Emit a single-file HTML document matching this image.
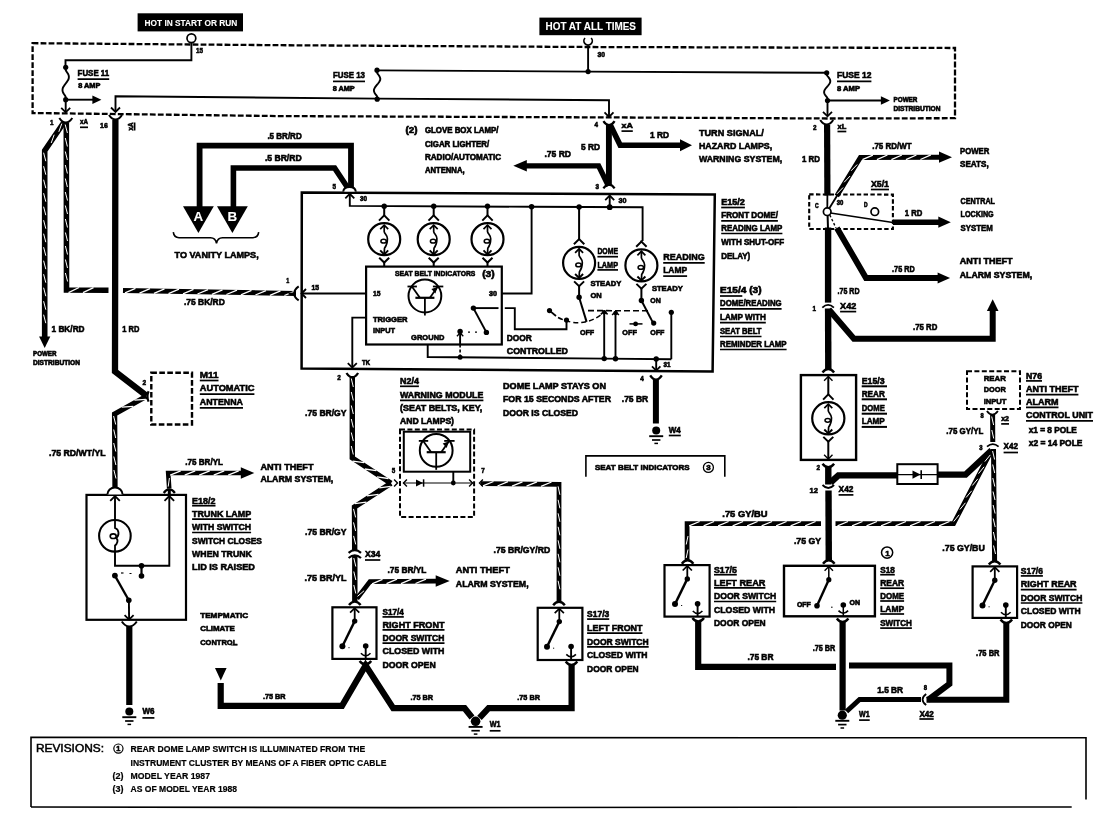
<!DOCTYPE html>
<html><head><meta charset="utf-8"><title>Wiring diagram</title>
<style>
html,body{margin:0;padding:0;background:#fff;}
body{width:1115px;height:830px;overflow:hidden;}
svg{display:block;font-family:"Liberation Sans",sans-serif;filter:blur(0.5px);}
svg *{vector-effect:none;}
</style></head><body>
<svg width="1115" height="830" viewBox="0 0 1115 830" fill="none" stroke="#000" stroke-linecap="butt">
<rect x="0" y="0" width="1115" height="830" fill="#fff" stroke="none"/>
<g stroke="#000" fill="none">
<rect x="137.6" y="13.3" width="105.4" height="18.1" stroke-width="0" fill="#000"/>
<text x="144.5" y="26.1" font-size="9.6" fill="#fff" stroke="#fff" stroke-width="0.1" text-anchor="start" font-weight="bold" textLength="92.8" lengthAdjust="spacingAndGlyphs">HOT IN START OR RUN</text>
<rect x="539.4" y="17.6" width="102.2" height="17.6" stroke-width="0" fill="#000"/>
<text x="545.5" y="29.7" font-size="10.5" fill="#fff" stroke="#fff" stroke-width="0.1" text-anchor="start" font-weight="bold" textLength="90.5" lengthAdjust="spacingAndGlyphs">HOT AT ALL TIMES</text>
<polygon points="32.6,43.2 280,45.2 588,47 955,48 955,118.2 827,118.5 609,117.4 280,116.1 32.6,113" stroke-width="2.3" stroke-dasharray="5.8 2.2"/>
<polyline points="191.4,42.5 191.4,60.3 65.5,60.3 65.5,67.3" stroke-width="1.9" />
<circle cx="191.4" cy="38.2" r="4.4" stroke-width="1.7" fill="#fff"/>
<text x="196" y="53.1" font-size="7.7" fill="#000" stroke="#000" stroke-width="0.6" text-anchor="start" font-weight="bold" textLength="7" lengthAdjust="spacingAndGlyphs">15</text>
<circle cx="65.7" cy="67.3" r="2.6" fill="#000" stroke="none"/>
<circle cx="65.7" cy="99.7" r="2.6" fill="#000" stroke="none"/>
<polyline points="65.7,67.3 65.7,68.6 65.7,70 66.3,71.3 67.3,72.7 68.1,74 68.7,75.4 68.9,76.8 68.8,78.1 68.4,79.5 67.6,80.8 66.7,82.2 65.7,83.5 64.7,84.8 63.8,86.2 63,87.5 62.6,88.9 62.5,90.2 62.7,91.6 63.3,93 64.1,94.3 65.1,95.7 65.7,97 65.7,98.4 65.7,99.7" stroke-width="1.9" />
<polyline points="65.7,99.7 93,99.7" stroke-width="1.9" />
<polygon points="101.4,99.7 92.4,95.4 92.4,104" fill="#000" stroke="none"/>
<polyline points="65.7,99.7 65.7,112" stroke-width="1.9" />
<polyline points="61.2,107.8 65.7,112.3 70.2,107.8" stroke-width="1.8" />
<text x="77.6" y="75.9" font-size="9.4" fill="#000" stroke="#000" stroke-width="0.6" text-anchor="start" font-weight="bold" textLength="31.6" lengthAdjust="spacingAndGlyphs">FUSE 11</text>
<line x1="77.6" y1="79.1" x2="109.2" y2="79.1" stroke-width="1.7"/>
<text x="78.2" y="87.5" font-size="6.8" fill="#000" stroke="#000" stroke-width="0.6" text-anchor="start" font-weight="bold" textLength="22.2" lengthAdjust="spacingAndGlyphs">8 AMP</text>
<polyline points="115.5,111.9 115.5,96.2 377.4,98.6 609,100.2 609,116.5" stroke-width="1.9" />
<polyline points="111,107.5 115.5,112 120,107.5" stroke-width="1.8" />
<polyline points="604.5,112.4 609,116.9 613.5,112.4" stroke-width="1.8" />
<circle cx="377" cy="70.2" r="2.6" fill="#000" stroke="none"/>
<circle cx="377.2" cy="99.2" r="2.6" fill="#000" stroke="none"/>
<polyline points="377,70.2 377,71.4 377,72.6 377.6,73.8 378.6,75 379.4,76.2 380,77.5 380.3,78.7 380.2,79.9 379.7,81.1 379,82.3 378.1,83.5 377.1,84.7 376.1,85.9 375.2,87.1 374.5,88.3 374,89.5 373.9,90.7 374.2,92 374.8,93.2 375.6,94.4 376.6,95.6 377.2,96.8 377.2,98 377.2,99.2" stroke-width="1.9" />
<polyline points="377.4,70.4 588.1,71.6 826.7,72.8" stroke-width="1.9" />
<text x="333" y="77.8" font-size="9.4" fill="#000" stroke="#000" stroke-width="0.6" text-anchor="start" font-weight="bold" textLength="32" lengthAdjust="spacingAndGlyphs">FUSE 13</text>
<line x1="333" y1="81.4" x2="365" y2="81.4" stroke-width="1.7"/>
<text x="332.7" y="91" font-size="6.8" fill="#000" stroke="#000" stroke-width="0.6" text-anchor="start" font-weight="bold" textLength="22" lengthAdjust="spacingAndGlyphs">8 AMP</text>
<path d="M585.0,38.0 A4.2,4.2 0 1 0 591.2,38.0" stroke-width="1.7" fill="none" />
<polyline points="588.1,45.6 588.1,71.6" stroke-width="1.9" />
<circle cx="588.1" cy="71.6" r="2.6" fill="#000" stroke="none"/>
<text x="597.5" y="56.8" font-size="7.7" fill="#000" stroke="#000" stroke-width="0.6" text-anchor="start" font-weight="bold" textLength="7.5" lengthAdjust="spacingAndGlyphs">30</text>
<circle cx="826.7" cy="72.8" r="2.6" fill="#000" stroke="none"/>
<circle cx="827.5" cy="100.5" r="2.6" fill="#000" stroke="none"/>
<polyline points="826.9,72.8 826.9,74 826.9,75.1 827.6,76.3 828.6,77.4 829.4,78.6 830,79.7 830.3,80.9 830.2,82 829.8,83.2 829.1,84.3 828.2,85.5 827.2,86.7 826.2,87.8 825.3,89 824.6,90.1 824.2,91.3 824.1,92.4 824.4,93.6 825,94.7 825.8,95.9 826.8,97 827.5,98.2 827.5,99.3 827.5,100.5" stroke-width="1.9" />
<polyline points="827.5,100.5 827.5,116" stroke-width="1.9" />
<polyline points="823,111.8 827.5,116.3 832,111.8" stroke-width="1.8" />
<polyline points="827.5,100.5 881.5,100.5" stroke-width="1.9" />
<polygon points="889.9,100.5 880.9,96.2 880.9,104.8" fill="#000" stroke="none"/>
<text x="837" y="78" font-size="9.2" fill="#000" stroke="#000" stroke-width="0.6" text-anchor="start" font-weight="bold" textLength="34.4" lengthAdjust="spacingAndGlyphs">FUSE 12</text>
<line x1="837" y1="81.4" x2="871.4" y2="81.4" stroke-width="1.7"/>
<text x="837" y="90.5" font-size="7.1" fill="#000" stroke="#000" stroke-width="0.6" text-anchor="start" font-weight="bold" textLength="23" lengthAdjust="spacingAndGlyphs">8 AMP</text>
<text x="893.5" y="102.2" font-size="6.8" fill="#000" stroke="#000" stroke-width="0.6" text-anchor="start" font-weight="bold" textLength="23.9" lengthAdjust="spacingAndGlyphs">POWER</text>
<text x="893.5" y="111" font-size="6.8" fill="#000" stroke="#000" stroke-width="0.6" text-anchor="start" font-weight="bold" textLength="47" lengthAdjust="spacingAndGlyphs">DISTRIBUTION</text>
<path d="M59.3,118 Q62.2,122.5 65.8,122.5 Q69.4,122.5 72.3,118" stroke-width="2" fill="none" />
<text x="50" y="124.8" font-size="7.7" fill="#000" stroke="#000" stroke-width="0.6" text-anchor="start" font-weight="bold" textLength="3.5" lengthAdjust="spacingAndGlyphs">1</text>
<text x="80" y="124.3" font-size="7.7" fill="#000" stroke="#000" stroke-width="0.6" text-anchor="start" font-weight="bold" textLength="8" lengthAdjust="spacingAndGlyphs">xA</text>
<line x1="80" y1="127.3" x2="88" y2="127.3" stroke-width="1.7"/>
<path d="M109,115 Q111.9,119.5 115.5,119.5 Q119.1,119.5 122,115" stroke-width="2" fill="none" />
<text x="100" y="127.6" font-size="7.7" fill="#000" stroke="#000" stroke-width="0.6" text-anchor="start" font-weight="bold" textLength="7.8" lengthAdjust="spacingAndGlyphs">16</text>
<g transform="translate(130.6,125) rotate(-90)">
<text x="-5.5" y="2.8" font-size="7.7" fill="#000" stroke="#000" stroke-width="0.6" text-anchor="start" font-weight="bold" textLength="8" lengthAdjust="spacingAndGlyphs">xA</text>
<line x1="-5.5" y1="4" x2="2.5" y2="4" stroke-width="1.7"/>
</g>
<path d="M603.4,121.2 Q605.9,125 609,125 Q612.1,125 614.6,121.2" stroke-width="2.2" fill="none" />
<text x="594.5" y="127.1" font-size="7.7" fill="#000" stroke="#000" stroke-width="0.6" text-anchor="start" font-weight="bold" textLength="3.5" lengthAdjust="spacingAndGlyphs">4</text>
<text x="621.5" y="128" font-size="7.7" fill="#000" stroke="#000" stroke-width="0.6" text-anchor="start" font-weight="bold" textLength="11.3" lengthAdjust="spacingAndGlyphs">xA</text>
<line x1="621.5" y1="131.1" x2="632.8" y2="131.1" stroke-width="1.7"/>
<path d="M820.2,120 Q823.1,124.5 826.7,124.5 Q830.3,124.5 833.2,120" stroke-width="2" fill="none" />
<text x="813" y="130.1" font-size="7.7" fill="#000" stroke="#000" stroke-width="0.6" text-anchor="start" font-weight="bold" textLength="3.5" lengthAdjust="spacingAndGlyphs">2</text>
<text x="837.5" y="129.2" font-size="7.7" fill="#000" stroke="#000" stroke-width="0.6" text-anchor="start" font-weight="bold" textLength="8.8" lengthAdjust="spacingAndGlyphs">xL</text>
<line x1="837.5" y1="131.5" x2="846.3" y2="131.5" stroke-width="1.7"/>
<polyline points="63.8,122.5 44.7,150.7 44.7,337.5" stroke-width="5.6" stroke-linejoin="miter"/>
<path d="M61.8,123.6L58.8,131.8M54.2,134.7L51.2,143M43.6,152.7L45.8,161.2M43.6,166.2L45.8,174.7M43.6,179.7L45.8,188.2M43.6,193.2L45.8,201.7M43.6,206.7L45.8,215.2M43.6,220.2L45.8,228.7M43.6,233.7L45.8,242.2M43.6,247.2L45.8,255.7M43.6,260.7L45.8,269.2M43.6,274.2L45.8,282.7M43.6,287.7L45.8,296.2M43.6,301.2L45.8,309.7M43.6,314.7L45.8,323.2" stroke="#fff" stroke-width="1" stroke-linecap="butt"/>
<polygon points="44.7,347.9 39.1,336.4 50.3,336.4" fill="#000" stroke="none"/>
<polyline points="66.3,122.5 66.5,290 108.5,290.3" stroke-width="5.6" stroke-linejoin="miter"/>
<path d="M68.5,292.6L79,287.5M83,292.7L93.5,287.6" stroke="#fff" stroke-width="1.3" stroke-linecap="butt"/>
<path d="M65.2,124.5L67.4,133M65.3,138L67.4,146.5M65.3,151.5L67.4,160M65.3,165L67.4,173.5M65.3,178.5L67.4,187M65.3,192L67.5,200.5M65.3,205.5L67.5,214M65.4,219L67.5,227.5M65.4,232.5L67.5,241M65.4,246L67.5,254.5M65.4,259.5L67.5,268M65.4,273L67.6,281.5" stroke="#fff" stroke-width="1" stroke-linecap="butt"/>
<polyline points="123,290.5 296,293.4" stroke-width="5" stroke-linejoin="miter"/>
<path d="M125,292.8L135.5,288.4M139.5,293.1L150,288.7M154,293.3L164.5,288.9M168.5,293.6L179,289.1M183,293.8L193.5,289.4M197.5,294L208,289.6M211.9,294.3L222.5,289.9M226.4,294.5L237,290.1M240.9,294.8L251.5,290.4M255.4,295L266,290.6M269.9,295.3L280.5,290.8M284.4,295.5L295,291.1" stroke="#fff" stroke-width="1.3" stroke-linecap="butt"/>
<polyline points="115.4,120 115,371.5 146.5,395.8" stroke-width="6.3" stroke-linejoin="miter"/>
<polyline points="146.5,396.2 114.6,414 115,489" stroke-width="5.3" stroke-linejoin="miter"/>
<path d="M145.9,399.3L134.4,400.2M133.3,406.4L121.7,407.2" stroke="#fff" stroke-width="1.3" stroke-linecap="butt"/>
<path d="M113.6,416L115.7,424.5M113.7,429.5L115.7,438M113.7,443L115.8,451.5M113.8,456.5L115.9,465M113.9,470L116,478.5" stroke="#fff" stroke-width="1" stroke-linecap="butt"/>
<polygon points="151.3,372.8 192,372.8 192,424.5 151.3,424.5" stroke-width="2.4" stroke-dasharray="5.6 2.4"/>
<path d="M148.6,391.2 Q146.2,396.4 148.6,401.6" stroke-width="2.2" fill="none" />
<text x="142.4" y="385.4" font-size="7.7" fill="#000" stroke="#000" stroke-width="0.6" text-anchor="start" font-weight="bold" textLength="3.6" lengthAdjust="spacingAndGlyphs">2</text>
<text x="199.8" y="377.7" font-size="9.6" fill="#000" stroke="#000" stroke-width="0.6" text-anchor="start" font-weight="bold" textLength="18.7" lengthAdjust="spacingAndGlyphs">M11</text>
<line x1="199.8" y1="380.5" x2="218.5" y2="380.5" stroke-width="1.7"/>
<text x="199.8" y="391.3" font-size="9.6" fill="#000" stroke="#000" stroke-width="0.6" text-anchor="start" font-weight="bold" textLength="54.6" lengthAdjust="spacingAndGlyphs">AUTOMATIC</text>
<line x1="199.8" y1="394.1" x2="254.4" y2="394.1" stroke-width="1.7"/>
<text x="199.8" y="404.8" font-size="9.6" fill="#000" stroke="#000" stroke-width="0.6" text-anchor="start" font-weight="bold" textLength="43.2" lengthAdjust="spacingAndGlyphs">ANTENNA</text>
<line x1="199.8" y1="407.8" x2="243" y2="407.8" stroke-width="1.7"/>
<text x="51.5" y="332" font-size="9.2" fill="#000" stroke="#000" stroke-width="0.6" text-anchor="start" font-weight="bold" textLength="33.1" lengthAdjust="spacingAndGlyphs">1 BK/RD</text>
<text x="122.3" y="332" font-size="9.2" fill="#000" stroke="#000" stroke-width="0.6" text-anchor="start" font-weight="bold" textLength="17.1" lengthAdjust="spacingAndGlyphs">1 RD</text>
<text x="33" y="356.2" font-size="6.8" fill="#000" stroke="#000" stroke-width="0.6" text-anchor="start" font-weight="bold" textLength="23.5" lengthAdjust="spacingAndGlyphs">POWER</text>
<text x="33" y="365" font-size="6.8" fill="#000" stroke="#000" stroke-width="0.6" text-anchor="start" font-weight="bold" textLength="47" lengthAdjust="spacingAndGlyphs">DISTRIBUTION</text>
<text x="184" y="305.1" font-size="9.2" fill="#000" stroke="#000" stroke-width="0.6" text-anchor="start" font-weight="bold" textLength="40.8" lengthAdjust="spacingAndGlyphs">.75 BK/RD</text>
<text x="49" y="455.6" font-size="9.2" fill="#000" stroke="#000" stroke-width="0.6" text-anchor="start" font-weight="bold" textLength="56.5" lengthAdjust="spacingAndGlyphs">.75 RD/WT/YL</text>
<polyline points="351,189 351,145.6 199.6,145.6 199.6,207" stroke-width="5.8" stroke-linejoin="miter"/>
<polyline points="348.2,188.5 334.6,168 233.4,168 233.4,207" stroke-width="5.6" stroke-linejoin="miter"/>
<polygon points="183,206.3 213.8,206.3 198.4,233" fill="#000" stroke="none"/>
<polygon points="217,206.3 247.8,206.3 232.4,233" fill="#000" stroke="none"/>
<text x="198.4" y="221.3" font-size="13.4" fill="#fff" stroke="#fff" stroke-width="0.1" text-anchor="middle" font-weight="bold">A</text>
<text x="232.4" y="221.3" font-size="13.4" fill="#fff" stroke="#fff" stroke-width="0.1" text-anchor="middle" font-weight="bold">B</text>
<path d="M173.3,232.2 Q174,237.7 179,237.7 L210.5,237.7 Q215.5,237.7 216.5,243.4 Q217.5,237.7 222.5,237.7 L253,237.7 Q258,237.7 258.7,232.2" stroke-width="1.6" fill="none" />
<text x="174.5" y="258.3" font-size="9.8" fill="#000" stroke="#000" stroke-width="0.6" text-anchor="start" font-weight="bold" textLength="84.2" lengthAdjust="spacingAndGlyphs">TO VANITY LAMPS,</text>
<text x="267.4" y="138.9" font-size="9.2" fill="#000" stroke="#000" stroke-width="0.6" text-anchor="start" font-weight="bold" textLength="34.3" lengthAdjust="spacingAndGlyphs">.5 BR/RD</text>
<text x="264.9" y="161.3" font-size="9.2" fill="#000" stroke="#000" stroke-width="0.6" text-anchor="start" font-weight="bold" textLength="36.8" lengthAdjust="spacingAndGlyphs">.5 BR/RD</text>
<rect x="86.5" y="494.9" width="99.5" height="124.9" stroke-width="2.2" fill="none"/>
<path d="M107.4,494.6 A7.6,7.2 0 0 1 122.6,494.6" stroke-width="2" fill="#fff" />
<path d="M163.7,493 Q166.2,489.4 169.3,489.4 Q172.4,489.4 174.9,493" stroke-width="2.2" fill="none" />
<polyline points="169.3,490 169.3,495" stroke-width="3" />
<polyline points="110.2,500.8 115,496 119.8,500.8" stroke-width="1.8" />
<polyline points="164.5,500.8 169.3,496 174.1,500.8" stroke-width="1.8" />
<polyline points="115,496 115,521" stroke-width="1.9" />
<circle cx="114.9" cy="535.8" r="15.8" stroke-width="2.1" fill="none"/>
<path d="M115,520 L115,528 C119.5,529.5 119.5,536 116,538 C119,540 117,544 115,545.5 L115,552" stroke-width="1.8" fill="none" />
<ellipse cx="113.2" cy="536.2" rx="3.0" ry="2.3" stroke-width="1.6" fill="none"/>
<polyline points="115,551 115,565.7 169.3,565.7 169.3,496" stroke-width="1.9" />
<circle cx="141.5" cy="565.7" r="2.8" fill="#000" stroke="none"/>
<polyline points="141.5,565.7 141.5,576" stroke-width="2.2" />
<circle cx="141.5" cy="576" r="2.8" fill="#000" stroke="none"/>
<circle cx="114.9" cy="575.6" r="2.9" fill="#000" stroke="none"/>
<polyline points="121,573 123.5,573" stroke-width="1.2" />
<polyline points="129.5,573.5 131.5,573.5" stroke-width="1" />
<polyline points="114.9,575.6 128.8,600.2" stroke-width="2.3" />
<circle cx="128.8" cy="600.2" r="2.8" fill="#000" stroke="none"/>
<polyline points="128.9,600.2 129.1,619" stroke-width="1.9" />
<polyline points="124.6,615.1 129.1,619.6 133.6,615.1" stroke-width="1.8" />
<path d="M121.8,621.5 Q125.2,626.5 129.3,626.5 Q133.4,626.5 136.8,621.5" stroke-width="2" fill="none" />
<polyline points="129.3,626 129.3,705" stroke-width="6.2" stroke-linejoin="miter"/>
<circle cx="129.3" cy="711.6" r="4" fill="#000" stroke="none"/>
<polyline points="122.3,717.2 136.3,717.2" stroke-width="1.9" />
<polyline points="125.1,721 133.5,721" stroke-width="1.7" />
<polyline points="127.5,724.4 131.1,724.4" stroke-width="1.5" />
<text x="142.4" y="714.4" font-size="8.6" fill="#000" stroke="#000" stroke-width="0.6" text-anchor="start" font-weight="bold" textLength="12" lengthAdjust="spacingAndGlyphs">W6</text>
<line x1="142.4" y1="717.9" x2="154.4" y2="717.9" stroke-width="1.7"/>
<polyline points="169.2,488.5 168.2,473 241,473" stroke-width="4.6" stroke-linejoin="miter"/>
<path d="M170.2,475.1L180.7,470.9M184.7,475.1L195.2,470.9M199.2,475.1L209.7,470.9M213.7,475.1L224.2,470.9M228.2,475.1L238.7,470.9" stroke="#fff" stroke-width="1.3" stroke-linecap="butt"/>
<path d="M168.2,486.6L169.4,478" stroke="#fff" stroke-width="1" stroke-linecap="butt"/>
<polygon points="254.3,473 240.8,467.2 240.8,478.8" fill="#000" stroke="none"/>
<text x="185.3" y="464.9" font-size="9.2" fill="#000" stroke="#000" stroke-width="0.6" text-anchor="start" font-weight="bold" textLength="37.7" lengthAdjust="spacingAndGlyphs">.75 BR/YL</text>
<text x="260.4" y="470" font-size="9.6" fill="#000" stroke="#000" stroke-width="0.6" text-anchor="start" font-weight="bold" textLength="53.1" lengthAdjust="spacingAndGlyphs">ANTI THEFT</text>
<text x="260.4" y="482.2" font-size="9.6" fill="#000" stroke="#000" stroke-width="0.6" text-anchor="start" font-weight="bold" textLength="72.8" lengthAdjust="spacingAndGlyphs">ALARM SYSTEM,</text>
<text x="192.1" y="503.5" font-size="9.6" fill="#000" stroke="#000" stroke-width="0.6" text-anchor="start" font-weight="bold" textLength="23.4" lengthAdjust="spacingAndGlyphs">E18/2</text>
<line x1="192.1" y1="505.7" x2="215.5" y2="505.7" stroke-width="1.7"/>
<text x="192.1" y="517" font-size="9.6" fill="#000" stroke="#000" stroke-width="0.6" text-anchor="start" font-weight="bold" textLength="59" lengthAdjust="spacingAndGlyphs">TRUNK LAMP</text>
<line x1="192.1" y1="519.1" x2="251.1" y2="519.1" stroke-width="1.7"/>
<text x="192.1" y="530.3" font-size="9.6" fill="#000" stroke="#000" stroke-width="0.6" text-anchor="start" font-weight="bold" textLength="59" lengthAdjust="spacingAndGlyphs">WITH SWITCH</text>
<line x1="192.1" y1="532.5" x2="251.1" y2="532.5" stroke-width="1.7"/>
<text x="192.1" y="543.6" font-size="9.6" fill="#000" stroke="#000" stroke-width="0.6" text-anchor="start" font-weight="bold" textLength="69.8" lengthAdjust="spacingAndGlyphs">SWITCH CLOSES</text>
<text x="192.1" y="556.7" font-size="9.6" fill="#000" stroke="#000" stroke-width="0.6" text-anchor="start" font-weight="bold" textLength="59.8" lengthAdjust="spacingAndGlyphs">WHEN TRUNK</text>
<text x="192.1" y="570" font-size="9.6" fill="#000" stroke="#000" stroke-width="0.6" text-anchor="start" font-weight="bold" textLength="62.8" lengthAdjust="spacingAndGlyphs">LID IS RAISED</text>
<text x="200.2" y="617.7" font-size="8.1" fill="#000" stroke="#000" stroke-width="0.6" text-anchor="start" font-weight="bold" textLength="47.9" lengthAdjust="spacingAndGlyphs">TEMPMATIC</text>
<text x="200.2" y="630.7" font-size="8.1" fill="#000" stroke="#000" stroke-width="0.6" text-anchor="start" font-weight="bold" textLength="34.6" lengthAdjust="spacingAndGlyphs">CLIMATE</text>
<text x="200.2" y="644.5" font-size="8.1" fill="#000" stroke="#000" stroke-width="0.6" text-anchor="start" font-weight="bold" textLength="37.1" lengthAdjust="spacingAndGlyphs">CONTROL</text>
<polyline points="231,645 237.5,645" stroke-width="1" />
<polygon points="301.8,192.6 714.8,194.4 712.6,371.6 301.6,368.4" stroke-width="2.5" fill="none"/>
<path d="M343.2,191.6 Q343.8,187.0 349.6,187.0 Q355.2,187.0 355.8,191.6" stroke-width="2" fill="#fff" />
<text x="332.5" y="189.1" font-size="7.7" fill="#000" stroke="#000" stroke-width="0.6" text-anchor="start" font-weight="bold" textLength="3.5" lengthAdjust="spacingAndGlyphs">5</text>
<polyline points="345.3,198.3 349.8,193.8 354.3,198.3" stroke-width="1.8" />
<polyline points="349.8,193.8 349.8,205.9 531.6,206.8 642.6,207.3 642.6,241" stroke-width="1.9" />
<text x="360" y="201" font-size="7.1" fill="#000" stroke="#000" stroke-width="0.6" text-anchor="start" font-weight="bold" textLength="7" lengthAdjust="spacingAndGlyphs">30</text>
<circle cx="384.2" cy="206.3" r="2.7" fill="#000" stroke="none"/>
<polyline points="384.2,206.3 384.2,215.9" stroke-width="2" />
<polyline points="379,220.6 384.2,215.4 389.4,220.6" stroke-width="2" />
<circle cx="384.2" cy="239.2" r="16" stroke-width="2.2" fill="none"/>
<polyline points="380.2,229.1 384.2,225.1 388.2,229.1" stroke-width="1.7" />
<path d="M384.2,225.1 L384.2,231.7 C384.7,234.2 387.4,235.2 387.4,238.7 C387.4,243.2 386.7,245.2 384.5,248.2 L384.2,254" stroke-width="1.7" fill="none" />
<ellipse cx="383.6" cy="241.2" rx="2.7" ry="1.9" stroke-width="1.5" fill="none"/>
<polyline points="380.2,250.3 384.2,254.3 388.2,250.3" stroke-width="1.9" />
<polyline points="379.2,257.7 384.2,262.5 389.2,257.7" stroke-width="2" />
<polyline points="384.2,262 384.2,266.6" stroke-width="2" />
<circle cx="433.7" cy="206.3" r="2.7" fill="#000" stroke="none"/>
<polyline points="433.7,206.3 433.7,215.9" stroke-width="2" />
<polyline points="428.5,220.6 433.7,215.4 438.9,220.6" stroke-width="2" />
<circle cx="433.7" cy="239.2" r="16" stroke-width="2.2" fill="none"/>
<polyline points="429.7,229.1 433.7,225.1 437.7,229.1" stroke-width="1.7" />
<path d="M433.7,225.1 L433.7,231.7 C434.2,234.2 436.9,235.2 436.9,238.7 C436.9,243.2 436.2,245.2 434,248.2 L433.7,254" stroke-width="1.7" fill="none" />
<ellipse cx="433.1" cy="241.2" rx="2.7" ry="1.9" stroke-width="1.5" fill="none"/>
<polyline points="429.7,250.3 433.7,254.3 437.7,250.3" stroke-width="1.9" />
<polyline points="428.7,257.7 433.7,262.5 438.7,257.7" stroke-width="2" />
<polyline points="433.7,262 433.7,266.6" stroke-width="2" />
<circle cx="487.5" cy="206.3" r="2.7" fill="#000" stroke="none"/>
<polyline points="487.5,206.3 487.5,215.9" stroke-width="2" />
<polyline points="482.3,220.6 487.5,215.4 492.7,220.6" stroke-width="2" />
<circle cx="487.5" cy="239.2" r="16" stroke-width="2.2" fill="none"/>
<polyline points="483.5,229.1 487.5,225.1 491.5,229.1" stroke-width="1.7" />
<path d="M487.5,225.1 L487.5,231.7 C488,234.2 490.7,235.2 490.7,238.7 C490.7,243.2 490,245.2 487.8,248.2 L487.5,254" stroke-width="1.7" fill="none" />
<ellipse cx="486.9" cy="241.2" rx="2.7" ry="1.9" stroke-width="1.5" fill="none"/>
<polyline points="483.5,250.3 487.5,254.3 491.5,250.3" stroke-width="1.9" />
<polyline points="482.5,257.7 487.5,262.5 492.5,257.7" stroke-width="2" />
<polyline points="487.5,262 487.5,266.6" stroke-width="2" />
<rect x="366.1" y="266.6" width="135.7" height="77.9" stroke-width="2.2" fill="none"/>
<text x="395" y="276.3" font-size="7.9" fill="#000" stroke="#000" stroke-width="0.6" text-anchor="start" font-weight="bold" textLength="80.4" lengthAdjust="spacingAndGlyphs">SEAT BELT INDICATORS</text>
<text x="482.2" y="277" font-size="9.2" fill="#000" stroke="#000" stroke-width="0.6" text-anchor="start" font-weight="bold" textLength="12.5" lengthAdjust="spacingAndGlyphs">(3)</text>
<path d="M298.7,286.4 Q294.2,289.5 294.2,293.4 Q294.2,297.2 298.7,300.4" stroke-width="2" fill="none" />
<polyline points="288.5,293.4 294.5,293.4" stroke-width="1.6" />
<polyline points="306,289 301.5,293.5 306,298" stroke-width="1.8" />
<polyline points="301.5,293.5 366.1,293.5" stroke-width="1.9" />
<text x="286.3" y="283.3" font-size="7.7" fill="#000" stroke="#000" stroke-width="0.6" text-anchor="start" font-weight="bold" textLength="3" lengthAdjust="spacingAndGlyphs">1</text>
<text x="311.5" y="289.8" font-size="6.8" fill="#000" stroke="#000" stroke-width="0.6" text-anchor="start" font-weight="bold" textLength="7.5" lengthAdjust="spacingAndGlyphs">15</text>
<text x="373" y="296.3" font-size="7.7" fill="#000" stroke="#000" stroke-width="0.6" text-anchor="start" font-weight="bold" textLength="7.5" lengthAdjust="spacingAndGlyphs">15</text>
<text x="489" y="295.8" font-size="7.7" fill="#000" stroke="#000" stroke-width="0.6" text-anchor="start" font-weight="bold" textLength="8" lengthAdjust="spacingAndGlyphs">30</text>
<circle cx="424.9" cy="296" r="16.4" stroke-width="2" fill="none"/>
<polyline points="407.5,286.5 416.9,286.5" stroke-width="1.8" />
<polyline points="432.9,286.5 443.3,286.5" stroke-width="1.8" />
<polyline points="411.9,286.5 419.9,297.8" stroke-width="1.8" />
<polyline points="437.9,286.5 429.9,297.8" stroke-width="1.8" />
<polygon points="437.4,287 431.4,289 435.4,293.5" fill="#000" stroke="none"/>
<polyline points="415.4,297.8 434.4,297.8" stroke-width="2.2" />
<polyline points="424.9,297.8 424.9,315.4" stroke-width="1.8" />
<text x="372.9" y="321.6" font-size="8.1" fill="#000" stroke="#000" stroke-width="0.6" text-anchor="start" font-weight="bold" textLength="34.7" lengthAdjust="spacingAndGlyphs">TRIGGER</text>
<text x="372.9" y="333.2" font-size="8.1" fill="#000" stroke="#000" stroke-width="0.6" text-anchor="start" font-weight="bold" textLength="22.1" lengthAdjust="spacingAndGlyphs">INPUT</text>
<text x="411.1" y="339.5" font-size="8.1" fill="#000" stroke="#000" stroke-width="0.6" text-anchor="start" font-weight="bold" textLength="33.4" lengthAdjust="spacingAndGlyphs">GROUND</text>
<polyline points="366.1,317.6 352.3,317.6 352.3,367.3" stroke-width="1.9" />
<polyline points="347.8,363.1 352.3,367.6 356.8,363.1" stroke-width="1.8" />
<text x="362" y="365.3" font-size="6.8" fill="#000" stroke="#000" stroke-width="0.6" text-anchor="start" font-weight="bold" textLength="8" lengthAdjust="spacingAndGlyphs">TK</text>
<polyline points="501.8,293.5 531.6,293.5 531.6,206.8" stroke-width="1.9" />
<circle cx="531.6" cy="206.8" r="2.7" fill="#000" stroke="none"/>
<circle cx="473.4" cy="308.1" r="2.7" fill="#000" stroke="none"/>
<circle cx="486.4" cy="332.4" r="2.7" fill="#000" stroke="none"/>
<polyline points="473.4,308.1 486.4,332.4" stroke-width="2" />
<polyline points="473.4,308.1 498.5,308.1" stroke-width="1.9" />
<polyline points="504.8,308.1 514.8,308.1 514.8,329.2 566.5,329.2 566.5,320.1" stroke-width="1.9" />
<circle cx="460.1" cy="331.4" r="2.7" fill="#000" stroke="none"/>
<polyline points="468,332.2 470,332.2" stroke-width="1.2" />
<polyline points="475,332.2 477,332.2" stroke-width="1.2" />
<polyline points="456.9,336.2 460.1,333 463.3,336.2" stroke-width="1.3" />
<polyline points="460.1,331.4 460.1,344.5" stroke-width="1.9" />
<line x1="460.1" y1="344.5" x2="460.1" y2="357" stroke-width="1.6" stroke-dasharray="3 2"/>
<circle cx="460.1" cy="357.2" r="2.5" fill="#000" stroke="none"/>
<polyline points="427.7,344.5 427.7,357 604.2,358.6 671.3,359.2" stroke-width="1.9" />
<text x="506.8" y="341.1" font-size="8.9" fill="#000" stroke="#000" stroke-width="0.6" text-anchor="start" font-weight="bold" textLength="25.1" lengthAdjust="spacingAndGlyphs">DOOR</text>
<text x="506.8" y="354.1" font-size="8.9" fill="#000" stroke="#000" stroke-width="0.6" text-anchor="start" font-weight="bold" textLength="61.2" lengthAdjust="spacingAndGlyphs">CONTROLLED</text>
<circle cx="579.1" cy="207" r="2.7" fill="#000" stroke="none"/>
<circle cx="609.7" cy="207.2" r="2.9" fill="#000" stroke="none"/>
<polyline points="579.1,207 579.1,239.6" stroke-width="2" />
<polyline points="573.9,244.3 579.1,239.1 584.3,244.3" stroke-width="2" />
<circle cx="579.1" cy="262.9" r="16" stroke-width="2.2" fill="none"/>
<polyline points="575.1,252.8 579.1,248.8 583.1,252.8" stroke-width="1.7" />
<path d="M579.1,248.8 L579.1,255.4 C579.6,257.9 582.3,258.9 582.3,262.4 C582.3,266.9 581.6,268.9 579.4,271.9 L579.1,277.7" stroke-width="1.7" fill="none" />
<ellipse cx="578.5" cy="264.9" rx="2.7" ry="1.9" stroke-width="1.5" fill="none"/>
<polyline points="575.1,274 579.1,278 583.1,274" stroke-width="1.9" />
<polyline points="574.1,281.4 579.1,286.2 584.1,281.4" stroke-width="2" />
<polyline points="579.1,285.7 579.1,297.3" stroke-width="2" />
<polyline points="641.4,240.5 641.4,242.1" stroke-width="2" />
<polyline points="636.2,246.8 641.4,241.6 646.6,246.8" stroke-width="2" />
<circle cx="641.4" cy="265.4" r="16" stroke-width="2.2" fill="none"/>
<polyline points="637.4,255.3 641.4,251.3 645.4,255.3" stroke-width="1.7" />
<path d="M641.4,251.3 L641.4,257.9 C641.9,260.4 644.6,261.4 644.6,264.9 C644.6,269.4 643.9,271.4 641.7,274.4 L641.4,280.2" stroke-width="1.7" fill="none" />
<ellipse cx="640.8" cy="267.4" rx="2.7" ry="1.9" stroke-width="1.5" fill="none"/>
<polyline points="637.4,276.5 641.4,280.5 645.4,276.5" stroke-width="1.9" />
<polyline points="636.4,283.9 641.4,288.7 646.4,283.9" stroke-width="2" />
<polyline points="641.4,288.2 641.4,300.5" stroke-width="2" />
<polyline points="605.2,200.1 609.7,195.6 614.2,200.1" stroke-width="1.8" />
<polyline points="609.7,195.6 609.7,207.2" stroke-width="1.9" />
<text x="618.5" y="202.8" font-size="7.7" fill="#000" stroke="#000" stroke-width="0.6" text-anchor="start" font-weight="bold" textLength="8" lengthAdjust="spacingAndGlyphs">30</text>
<text x="597.4" y="254.4" font-size="9.2" fill="#000" stroke="#000" stroke-width="0.6" text-anchor="start" font-weight="bold" textLength="20.6" lengthAdjust="spacingAndGlyphs">DOME</text>
<line x1="597.4" y1="256.7" x2="618" y2="256.7" stroke-width="1.7"/>
<text x="597.4" y="267.5" font-size="9.2" fill="#000" stroke="#000" stroke-width="0.6" text-anchor="start" font-weight="bold" textLength="20.6" lengthAdjust="spacingAndGlyphs">LAMP</text>
<line x1="597.4" y1="269.9" x2="618" y2="269.9" stroke-width="1.7"/>
<text x="663.2" y="260.1" font-size="9.6" fill="#000" stroke="#000" stroke-width="0.6" text-anchor="start" font-weight="bold" textLength="41.5" lengthAdjust="spacingAndGlyphs">READING</text>
<line x1="663.2" y1="262.9" x2="704.7" y2="262.9" stroke-width="1.7"/>
<text x="663.2" y="273.4" font-size="9.6" fill="#000" stroke="#000" stroke-width="0.6" text-anchor="start" font-weight="bold" textLength="23.9" lengthAdjust="spacingAndGlyphs">LAMP</text>
<line x1="663.2" y1="276.1" x2="687.1" y2="276.1" stroke-width="1.7"/>
<text x="590.4" y="285.8" font-size="7.7" fill="#000" stroke="#000" stroke-width="0.6" text-anchor="start" font-weight="bold" textLength="30.9" lengthAdjust="spacingAndGlyphs">STEADY</text>
<text x="590.4" y="297.6" font-size="7.7" fill="#000" stroke="#000" stroke-width="0.6" text-anchor="start" font-weight="bold" textLength="11.3" lengthAdjust="spacingAndGlyphs">ON</text>
<text x="651.9" y="290.8" font-size="7.7" fill="#000" stroke="#000" stroke-width="0.6" text-anchor="start" font-weight="bold" textLength="30.9" lengthAdjust="spacingAndGlyphs">STEADY</text>
<text x="650.2" y="302.8" font-size="7.7" fill="#000" stroke="#000" stroke-width="0.6" text-anchor="start" font-weight="bold" textLength="10.5" lengthAdjust="spacingAndGlyphs">ON</text>
<circle cx="579.1" cy="297.3" r="2.7" fill="#000" stroke="none"/>
<polyline points="579.1,297.3 586.6,321.9" stroke-width="2" />
<circle cx="549.5" cy="310.6" r="2.6" fill="#000" stroke="none"/>
<polyline points="549.5,310.6 556,316" stroke-width="1.8" />
<circle cx="566.5" cy="320.1" r="2.6" fill="#000" stroke="none"/>
<path d="M558,317.5 Q583,330 604,312.5" stroke-width="1.5" fill="none" stroke-dasharray="5 3"/>
<line x1="588" y1="310.6" x2="650" y2="310.8" stroke-width="1.6" stroke-dasharray="6 3"/>
<polyline points="600.8,314.4 604.2,311 607.6,314.4" stroke-width="1.5" />
<polyline points="612.1,315 615.5,311.6 618.9,315" stroke-width="1.5" />
<circle cx="604.2" cy="312.2" r="2.2" fill="#000" stroke="none"/>
<circle cx="615.6" cy="313" r="2.2" fill="#000" stroke="none"/>
<polyline points="604.2,312 604.2,358.6" stroke-width="1.9" />
<polyline points="615.5,312 615.5,358.7" stroke-width="1.9" />
<circle cx="604.2" cy="358.6" r="2.7" fill="#000" stroke="none"/>
<circle cx="615.5" cy="358.7" r="2.7" fill="#000" stroke="none"/>
<circle cx="641.4" cy="300.5" r="2.7" fill="#000" stroke="none"/>
<polyline points="641.4,300.5 653.2,323.1" stroke-width="2" />
<circle cx="635.6" cy="323.9" r="2.4" fill="#000" stroke="none"/>
<polyline points="629.5,323.9 642.5,323.9" stroke-width="1.5" />
<circle cx="653.7" cy="323.1" r="2.6" fill="#000" stroke="none"/>
<circle cx="671.3" cy="312.3" r="2.6" fill="#000" stroke="none"/>
<polyline points="671.3,312.3 671.3,359.2" stroke-width="1.9" />
<circle cx="656.2" cy="359" r="2.7" fill="#000" stroke="none"/>
<polyline points="656.2,359 656.2,370" stroke-width="1.9" />
<polyline points="652,366.4 656.2,370.6 660.4,366.4" stroke-width="1.8" />
<text x="663.5" y="367.1" font-size="6.8" fill="#000" stroke="#000" stroke-width="0.6" text-anchor="start" font-weight="bold" textLength="7" lengthAdjust="spacingAndGlyphs">31</text>
<text x="579.9" y="335.4" font-size="8.1" fill="#000" stroke="#000" stroke-width="0.6" text-anchor="start" font-weight="bold" textLength="14.3" lengthAdjust="spacingAndGlyphs">OFF</text>
<text x="622.3" y="335.4" font-size="8.1" fill="#000" stroke="#000" stroke-width="0.6" text-anchor="start" font-weight="bold" textLength="14.6" lengthAdjust="spacingAndGlyphs">OFF</text>
<text x="650.2" y="335.4" font-size="8.1" fill="#000" stroke="#000" stroke-width="0.6" text-anchor="start" font-weight="bold" textLength="14.3" lengthAdjust="spacingAndGlyphs">OFF</text>
<text x="721.2" y="205.3" font-size="8.7" fill="#000" stroke="#000" stroke-width="0.6" text-anchor="start" font-weight="bold" textLength="23.7" lengthAdjust="spacingAndGlyphs">E15/2</text>
<line x1="721.2" y1="207.5" x2="744.9" y2="207.5" stroke-width="1.7"/>
<text x="721.2" y="218.4" font-size="8.7" fill="#000" stroke="#000" stroke-width="0.6" text-anchor="start" font-weight="bold" textLength="56.7" lengthAdjust="spacingAndGlyphs">FRONT DOME/</text>
<line x1="721.2" y1="220.9" x2="777.9" y2="220.9" stroke-width="1.7"/>
<text x="721.2" y="230.9" font-size="8.7" fill="#000" stroke="#000" stroke-width="0.6" text-anchor="start" font-weight="bold" textLength="61.2" lengthAdjust="spacingAndGlyphs">READING LAMP</text>
<line x1="721.2" y1="233.5" x2="782.4" y2="233.5" stroke-width="1.7"/>
<text x="721.2" y="244.7" font-size="8.7" fill="#000" stroke="#000" stroke-width="0.6" text-anchor="start" font-weight="bold" textLength="62.9" lengthAdjust="spacingAndGlyphs">WITH SHUT-OFF</text>
<text x="721.2" y="258.5" font-size="8.7" fill="#000" stroke="#000" stroke-width="0.6" text-anchor="start" font-weight="bold" textLength="29" lengthAdjust="spacingAndGlyphs">DELAY)</text>
<text x="720" y="292.9" font-size="8.7" fill="#000" stroke="#000" stroke-width="0.6" text-anchor="start" font-weight="bold" textLength="41.5" lengthAdjust="spacingAndGlyphs">E15/4 (3)</text>
<line x1="720" y1="296" x2="742.3" y2="296" stroke-width="1.7"/>
<text x="720" y="306.2" font-size="8.7" fill="#000" stroke="#000" stroke-width="0.6" text-anchor="start" font-weight="bold" textLength="61.6" lengthAdjust="spacingAndGlyphs">DOME/READING</text>
<line x1="720" y1="308.9" x2="781.6" y2="308.9" stroke-width="1.7"/>
<text x="720" y="320.1" font-size="8.7" fill="#000" stroke="#000" stroke-width="0.6" text-anchor="start" font-weight="bold" textLength="45.8" lengthAdjust="spacingAndGlyphs">LAMP WITH</text>
<line x1="720" y1="322.7" x2="765.8" y2="322.7" stroke-width="1.7"/>
<text x="720" y="333.9" font-size="8.7" fill="#000" stroke="#000" stroke-width="0.6" text-anchor="start" font-weight="bold" textLength="41.5" lengthAdjust="spacingAndGlyphs">SEAT BELT</text>
<line x1="720" y1="336.5" x2="761.5" y2="336.5" stroke-width="1.7"/>
<text x="720" y="346.9" font-size="8.7" fill="#000" stroke="#000" stroke-width="0.6" text-anchor="start" font-weight="bold" textLength="66.6" lengthAdjust="spacingAndGlyphs">REMINDER LAMP</text>
<line x1="720" y1="349.5" x2="786.6" y2="349.5" stroke-width="1.7"/>
<polyline points="608.9,125 608.9,186" stroke-width="5.9" stroke-linejoin="miter"/>
<path d="M603.4,188.4 Q605.9,184.6 609,184.6 Q612.1,184.6 614.6,188.4" stroke-width="2.2" fill="none" />
<text x="595.5" y="189.1" font-size="7.7" fill="#000" stroke="#000" stroke-width="0.6" text-anchor="start" font-weight="bold" textLength="3.5" lengthAdjust="spacingAndGlyphs">3</text>
<polyline points="610.3,125 620.2,145.2 681,145.2" stroke-width="5.6" stroke-linejoin="miter"/>
<polygon points="692,145.3 680,139.3 680,151.3" fill="#000" stroke="none"/>
<polyline points="608.5,186 598.6,165.9 526,165.9" stroke-width="5.4" stroke-linejoin="miter"/>
<polygon points="513.3,165.7 526.8,159.9 526.8,171.5" fill="#000" stroke="none"/>
<text x="650" y="138.3" font-size="9.2" fill="#000" stroke="#000" stroke-width="0.6" text-anchor="start" font-weight="bold" textLength="19" lengthAdjust="spacingAndGlyphs">1 RD</text>
<text x="581" y="150.3" font-size="9.2" fill="#000" stroke="#000" stroke-width="0.6" text-anchor="start" font-weight="bold" textLength="19" lengthAdjust="spacingAndGlyphs">5 RD</text>
<text x="544.4" y="156.6" font-size="9.2" fill="#000" stroke="#000" stroke-width="0.6" text-anchor="start" font-weight="bold" textLength="26.6" lengthAdjust="spacingAndGlyphs">.75 RD</text>
<text x="405.6" y="132.8" font-size="8.2" fill="#000" stroke="#000" stroke-width="0.6" text-anchor="start" font-weight="bold" textLength="12" lengthAdjust="spacingAndGlyphs">(2)</text>
<text x="424.9" y="132.8" font-size="8.2" fill="#000" stroke="#000" stroke-width="0.6" text-anchor="start" font-weight="bold" textLength="73.6" lengthAdjust="spacingAndGlyphs">GLOVE BOX LAMP/</text>
<text x="424.9" y="146.6" font-size="8.2" fill="#000" stroke="#000" stroke-width="0.6" text-anchor="start" font-weight="bold" textLength="64.3" lengthAdjust="spacingAndGlyphs">CIGAR LIGHTER/</text>
<text x="424.9" y="160.2" font-size="8.2" fill="#000" stroke="#000" stroke-width="0.6" text-anchor="start" font-weight="bold" textLength="76.1" lengthAdjust="spacingAndGlyphs">RADIO/AUTOMATIC</text>
<text x="424.9" y="173.3" font-size="8.2" fill="#000" stroke="#000" stroke-width="0.6" text-anchor="start" font-weight="bold" textLength="39.7" lengthAdjust="spacingAndGlyphs">ANTENNA,</text>
<text x="698.9" y="135.9" font-size="9.8" fill="#000" stroke="#000" stroke-width="0.6" text-anchor="start" font-weight="bold" textLength="65" lengthAdjust="spacingAndGlyphs">TURN SIGNAL/</text>
<text x="698.9" y="149.3" font-size="9.8" fill="#000" stroke="#000" stroke-width="0.6" text-anchor="start" font-weight="bold" textLength="73.3" lengthAdjust="spacingAndGlyphs">HAZARD LAMPS,</text>
<text x="698.9" y="162.3" font-size="9.8" fill="#000" stroke="#000" stroke-width="0.6" text-anchor="start" font-weight="bold" textLength="83.3" lengthAdjust="spacingAndGlyphs">WARNING SYSTEM,</text>
<path d="M346.5,373 Q349.1,377.2 352.3,377.2 Q355.5,377.2 358.1,373" stroke-width="2.3" fill="none" />
<text x="337.3" y="380.1" font-size="7.7" fill="#000" stroke="#000" stroke-width="0.6" text-anchor="start" font-weight="bold" textLength="3.5" lengthAdjust="spacingAndGlyphs">2</text>
<polyline points="352.3,376.5 352.3,457.9 391,483.2" stroke-width="5.4" stroke-linejoin="miter"/>
<path d="M352.6,461.1L364.1,462.7M364.8,469L376.3,470.6M376.9,476.9L388.4,478.5" stroke="#fff" stroke-width="1.3" stroke-linecap="butt"/>
<path d="M351.3,378.5L353.3,387M351.3,392L353.3,400.5M351.3,405.5L353.3,414M351.3,419L353.3,427.5M351.3,432.5L353.3,441M351.3,446L353.3,454.5" stroke="#fff" stroke-width="1" stroke-linecap="butt"/>
<polyline points="391,483.2 354.5,506.9 354.7,550.2" stroke-width="5.4" stroke-linejoin="miter"/>
<path d="M390.7,486.4L379.2,487.9M378.5,494.3L367,495.8M366.4,502.2L354.8,503.7" stroke="#fff" stroke-width="1.3" stroke-linecap="butt"/>
<path d="M353.5,508.9L355.6,517.4M353.5,522.4L355.6,530.9M353.6,535.9L355.7,544.4" stroke="#fff" stroke-width="1" stroke-linecap="butt"/>
<path d="M650.2,375.4 Q652.8,379.6 656,379.6 Q659.2,379.6 661.8,375.4" stroke-width="2.3" fill="none" />
<text x="640.3" y="380.8" font-size="7.7" fill="#000" stroke="#000" stroke-width="0.6" text-anchor="start" font-weight="bold" textLength="3.5" lengthAdjust="spacingAndGlyphs">4</text>
<polyline points="655.9,379.2 655.9,423.5" stroke-width="6" stroke-linejoin="miter"/>
<circle cx="656.2" cy="430.6" r="4" fill="#000" stroke="none"/>
<polyline points="649.2,436.2 663.2,436.2" stroke-width="1.9" />
<polyline points="652,440 660.4,440" stroke-width="1.7" />
<polyline points="654.4,443.4 658,443.4" stroke-width="1.5" />
<text x="668.8" y="432.9" font-size="8.6" fill="#000" stroke="#000" stroke-width="0.6" text-anchor="start" font-weight="bold" textLength="12" lengthAdjust="spacingAndGlyphs">W4</text>
<line x1="668.8" y1="435.5" x2="680.8" y2="435.5" stroke-width="1.7"/>
<text x="621.8" y="401.5" font-size="9.2" fill="#000" stroke="#000" stroke-width="0.6" text-anchor="start" font-weight="bold" textLength="26.4" lengthAdjust="spacingAndGlyphs">.75 BR</text>
<text x="305.1" y="416.1" font-size="9.2" fill="#000" stroke="#000" stroke-width="0.6" text-anchor="start" font-weight="bold" textLength="41.4" lengthAdjust="spacingAndGlyphs">.75 BR/GY</text>
<text x="305.1" y="535.4" font-size="9.2" fill="#000" stroke="#000" stroke-width="0.6" text-anchor="start" font-weight="bold" textLength="41.4" lengthAdjust="spacingAndGlyphs">.75 BR/GY</text>
<text x="503" y="388.9" font-size="9.1" fill="#000" stroke="#000" stroke-width="0.6" text-anchor="start" font-weight="bold" textLength="103" lengthAdjust="spacingAndGlyphs">DOME LAMP STAYS ON</text>
<text x="503" y="402.2" font-size="9.1" fill="#000" stroke="#000" stroke-width="0.6" text-anchor="start" font-weight="bold" textLength="108" lengthAdjust="spacingAndGlyphs">FOR 15 SECONDS AFTER</text>
<text x="503" y="415.5" font-size="9.1" fill="#000" stroke="#000" stroke-width="0.6" text-anchor="start" font-weight="bold" textLength="74.9" lengthAdjust="spacingAndGlyphs">DOOR IS CLOSED</text>
<text x="400" y="383.9" font-size="9.2" fill="#000" stroke="#000" stroke-width="0.6" text-anchor="start" font-weight="bold" textLength="18.9" lengthAdjust="spacingAndGlyphs">N2/4</text>
<line x1="400" y1="386.3" x2="418.9" y2="386.3" stroke-width="1.7"/>
<text x="400" y="397.9" font-size="9.1" fill="#000" stroke="#000" stroke-width="0.6" text-anchor="start" font-weight="bold" textLength="83.4" lengthAdjust="spacingAndGlyphs">WARNING MODULE</text>
<line x1="400" y1="400.3" x2="483.4" y2="400.3" stroke-width="1.7"/>
<text x="400" y="411.1" font-size="9.2" fill="#000" stroke="#000" stroke-width="0.6" text-anchor="start" font-weight="bold" textLength="82.2" lengthAdjust="spacingAndGlyphs">(SEAT BELTS, KEY,</text>
<text x="400" y="423.6" font-size="9.2" fill="#000" stroke="#000" stroke-width="0.6" text-anchor="start" font-weight="bold" textLength="54" lengthAdjust="spacingAndGlyphs">AND LAMPS)</text>
<polygon points="400,429.5 474.1,429.5 474.1,516.9 400,516.9" stroke-width="2" stroke-dasharray="5 2.4"/>
<rect x="403.8" y="431.7" width="66.4" height="40" stroke-width="2" fill="none"/>
<circle cx="436.2" cy="450.4" r="16.4" stroke-width="2" fill="none"/>
<polyline points="418.8,440.9 428.2,440.9" stroke-width="1.8" />
<polyline points="444.2,440.9 454.6,440.9" stroke-width="1.8" />
<polyline points="423.2,440.9 431.2,452.2" stroke-width="1.8" />
<polyline points="449.2,440.9 441.2,452.2" stroke-width="1.8" />
<polygon points="448.7,441.4 442.7,443.4 446.7,447.9" fill="#000" stroke="none"/>
<polyline points="426.7,452.2 445.7,452.2" stroke-width="2.2" />
<polyline points="436.2,452.2 436.2,469.8" stroke-width="1.8" />
<polyline points="403,483 473.4,483" stroke-width="1.2" />
<polygon points="416,479.6 416,486.4 423,483" fill="#000" stroke="none"/>
<polyline points="423.6,479.3 423.6,486.7" stroke-width="1.5" />
<circle cx="453.3" cy="483" r="2.4" fill="#000" stroke="none"/>
<polyline points="453.3,483 453.3,471.7" stroke-width="1.9" />
<polyline points="394.1,479.6 397.5,483 394.1,486.4" stroke-width="1.4" />
<polyline points="406.9,479.6 403.5,483 406.9,486.4" stroke-width="1.4" />
<polyline points="469.1,479.6 472.5,483 469.1,486.4" stroke-width="1.4" />
<polyline points="482.9,479.6 479.5,483 482.9,486.4" stroke-width="1.4" />
<text x="391.8" y="473.3" font-size="7.7" fill="#000" stroke="#000" stroke-width="0.6" text-anchor="start" font-weight="bold" textLength="3.5" lengthAdjust="spacingAndGlyphs">5</text>
<text x="481.2" y="473.3" font-size="7.7" fill="#000" stroke="#000" stroke-width="0.6" text-anchor="start" font-weight="bold" textLength="3.5" lengthAdjust="spacingAndGlyphs">7</text>
<polyline points="481,483.6 559,484.3 559,601" stroke-width="4.8" stroke-linejoin="miter"/>
<path d="M483,485.8L493.5,481.5M497.5,486L508,481.6M512,486.1L522.5,481.8M526.5,486.2L537,481.9M541,486.3L551.5,482" stroke="#fff" stroke-width="1.3" stroke-linecap="butt"/>
<path d="M558.1,486.3L559.9,494.8M558.1,499.8L559.9,508.3M558.1,513.3L559.9,521.8M558.1,526.8L559.9,535.3M558.1,540.3L559.9,548.8M558.1,553.8L559.9,562.3M558.1,567.3L559.9,575.8M558.1,580.8L559.9,589.3" stroke="#fff" stroke-width="1" stroke-linecap="butt"/>
<text x="493.5" y="553" font-size="9.2" fill="#000" stroke="#000" stroke-width="0.6" text-anchor="start" font-weight="bold" textLength="56.7" lengthAdjust="spacingAndGlyphs">.75 BR/GY/RD</text>
<path d="M348.6,552.8 Q354.8,547.4 361.0,552.8" stroke-width="2.2" fill="none" />
<path d="M348.6,558.0 Q354.8,552.6 361.0,558.0" stroke-width="2.2" fill="none" />
<text x="365" y="557.4" font-size="8.8" fill="#000" stroke="#000" stroke-width="0.6" text-anchor="start" font-weight="bold" textLength="15.3" lengthAdjust="spacingAndGlyphs">X34</text>
<line x1="365" y1="560" x2="380.3" y2="560" stroke-width="1.7"/>
<polyline points="354.8,556 354.8,601.5" stroke-width="5.4" stroke-linejoin="miter"/>
<path d="M353.8,558L355.8,566.5M353.8,571.5L355.8,580M353.8,585L355.8,593.5" stroke="#fff" stroke-width="1" stroke-linecap="butt"/>
<polyline points="357,598.5 370,581.6 436.5,581.2" stroke-width="4.8" stroke-linejoin="miter"/>
<path d="M372,583.8L382.5,579.3M386.5,583.7L397,579.2M401,583.6L411.5,579.1M415.5,583.5L426,579.1" stroke="#fff" stroke-width="1.3" stroke-linecap="butt"/>
<path d="M357.5,596.4L364.1,590.7" stroke="#fff" stroke-width="1" stroke-linecap="butt"/>
<polygon points="449.7,581 435.7,575.2 435.7,586.8" fill="#000" stroke="none"/>
<text x="304.6" y="581.1" font-size="9.2" fill="#000" stroke="#000" stroke-width="0.6" text-anchor="start" font-weight="bold" textLength="41.9" lengthAdjust="spacingAndGlyphs">.75 BR/YL</text>
<text x="387.5" y="573" font-size="9.2" fill="#000" stroke="#000" stroke-width="0.6" text-anchor="start" font-weight="bold" textLength="38.9" lengthAdjust="spacingAndGlyphs">.75 BR/YL</text>
<text x="455.8" y="573.1" font-size="9.6" fill="#000" stroke="#000" stroke-width="0.6" text-anchor="start" font-weight="bold" textLength="54" lengthAdjust="spacingAndGlyphs">ANTI THEFT</text>
<text x="455.8" y="586.7" font-size="9.6" fill="#000" stroke="#000" stroke-width="0.6" text-anchor="start" font-weight="bold" textLength="72.8" lengthAdjust="spacingAndGlyphs">ALARM SYSTEM,</text>
<path d="M349,605 Q351.6,601.6 354.8,601.6 Q358,601.6 360.6,605" stroke-width="2.4" fill="none" />
<rect x="332.4" y="607.3" width="44.1" height="51.6" stroke-width="2.2" fill="none"/>
<polyline points="350.1,612.7 354.7,608.1 359.3,612.7" stroke-width="1.7" />
<polyline points="354.7,608.1 354.7,621.1" stroke-width="1.8" />
<circle cx="354.7" cy="621.1" r="2.7" fill="#000" stroke="none"/>
<polyline points="354.7,621.1 342.4,646.3" stroke-width="2.4" />
<circle cx="342.4" cy="646.3" r="3" fill="#000" stroke="none"/>
<circle cx="365.7" cy="646" r="2.8" fill="#000" stroke="none"/>
<polyline points="348.4,647.7 349.6,647.7" stroke-width="0.9" />
<polyline points="365.7,646.3 365.7,658.9" stroke-width="1.9" />
<path d="M360.9,653.3 Q365.7,658.3 370.5,653.3" stroke-width="1.6" fill="none" />
<text x="382.5" y="615" font-size="9.2" fill="#000" stroke="#000" stroke-width="0.6" text-anchor="start" font-weight="bold" textLength="21.3" lengthAdjust="spacingAndGlyphs">S17/4</text>
<line x1="382.5" y1="616.9" x2="403.8" y2="616.9" stroke-width="1.7"/>
<text x="382.5" y="627.6" font-size="9.6" fill="#000" stroke="#000" stroke-width="0.6" text-anchor="start" font-weight="bold" textLength="62" lengthAdjust="spacingAndGlyphs">RIGHT FRONT</text>
<line x1="382.5" y1="629.9" x2="444.5" y2="629.9" stroke-width="1.7"/>
<text x="382.5" y="640.9" font-size="9.6" fill="#000" stroke="#000" stroke-width="0.6" text-anchor="start" font-weight="bold" textLength="62" lengthAdjust="spacingAndGlyphs">DOOR SWITCH</text>
<line x1="382.5" y1="643.2" x2="444.5" y2="643.2" stroke-width="1.7"/>
<text x="382.5" y="654" font-size="9.6" fill="#000" stroke="#000" stroke-width="0.6" text-anchor="start" font-weight="bold" textLength="62" lengthAdjust="spacingAndGlyphs">CLOSED WITH</text>
<text x="382.5" y="667.8" font-size="9.6" fill="#000" stroke="#000" stroke-width="0.6" text-anchor="start" font-weight="bold" textLength="53.2" lengthAdjust="spacingAndGlyphs">DOOR OPEN</text>
<path d="M359.6,660.9 Q362.2,664.3 365.4,664.3 Q368.6,664.3 371.2,660.9" stroke-width="2.4" fill="none" />
<polyline points="220.7,683 220.7,705.8 342,705.8 365.6,665.5 393.2,708.2 464.6,708.2 472,717.5" stroke-width="6.2" stroke-linejoin="miter"/>
<polygon points="215,668 226.6,668 220.8,680.4" fill="#000" stroke="none"/>
<polyline points="479.5,717.8 488.6,708.2 571.6,708.2 571.6,664" stroke-width="6.2" stroke-linejoin="miter"/>
<circle cx="475.6" cy="721.3" r="4.8" fill="#000" stroke="none"/>
<polyline points="468.6,726.9 482.6,726.9" stroke-width="1.9" />
<polyline points="471.4,730.7 479.8,730.7" stroke-width="1.7" />
<polyline points="473.8,734.1 477.4,734.1" stroke-width="1.5" />
<text x="489.7" y="727.2" font-size="8.6" fill="#000" stroke="#000" stroke-width="0.6" text-anchor="start" font-weight="bold" textLength="10.8" lengthAdjust="spacingAndGlyphs">W1</text>
<line x1="489.7" y1="730.8" x2="500.5" y2="730.8" stroke-width="1.7"/>
<text x="262.9" y="699.3" font-size="7.7" fill="#000" stroke="#000" stroke-width="0.6" text-anchor="start" font-weight="bold" textLength="22.6" lengthAdjust="spacingAndGlyphs">.75 BR</text>
<text x="410.5" y="699.8" font-size="7.7" fill="#000" stroke="#000" stroke-width="0.6" text-anchor="start" font-weight="bold" textLength="22.6" lengthAdjust="spacingAndGlyphs">.75 BR</text>
<text x="517.3" y="700.2" font-size="7.7" fill="#000" stroke="#000" stroke-width="0.6" text-anchor="start" font-weight="bold" textLength="22.6" lengthAdjust="spacingAndGlyphs">.75 BR</text>
<path d="M553.2,605.2 Q555.8,601.8 559,601.8 Q562.2,601.8 564.8,605.2" stroke-width="2.4" fill="none" />
<rect x="537.7" y="607.8" width="44.7" height="52.2" stroke-width="2.2" fill="none"/>
<polyline points="554.7,613.2 559.3,608.6 563.9,613.2" stroke-width="1.7" />
<polyline points="559.3,608.6 559.3,621.6" stroke-width="1.8" />
<circle cx="559.3" cy="621.6" r="2.7" fill="#000" stroke="none"/>
<polyline points="559.3,621.6 547,646.8" stroke-width="2.4" />
<circle cx="547" cy="646.8" r="3" fill="#000" stroke="none"/>
<circle cx="571.1" cy="646.5" r="2.8" fill="#000" stroke="none"/>
<polyline points="553,648.2 554.2,648.2" stroke-width="0.9" />
<polyline points="571.1,646.8 571.1,660" stroke-width="1.9" />
<path d="M566.3,654.4 Q571.1,659.4 575.9,654.4" stroke-width="1.6" fill="none" />
<path d="M565.7,661.6 Q568.3,665 571.5,665 Q574.7,665 577.3,661.6" stroke-width="2.4" fill="none" />
<text x="587.1" y="617" font-size="9.2" fill="#000" stroke="#000" stroke-width="0.6" text-anchor="start" font-weight="bold" textLength="22.1" lengthAdjust="spacingAndGlyphs">S17/3</text>
<line x1="587.1" y1="619.1" x2="609.2" y2="619.1" stroke-width="1.7"/>
<text x="587.1" y="630.9" font-size="9.6" fill="#000" stroke="#000" stroke-width="0.6" text-anchor="start" font-weight="bold" textLength="55.3" lengthAdjust="spacingAndGlyphs">LEFT FRONT</text>
<line x1="587.1" y1="633.1" x2="642.4" y2="633.1" stroke-width="1.7"/>
<text x="587.1" y="644.7" font-size="9.6" fill="#000" stroke="#000" stroke-width="0.6" text-anchor="start" font-weight="bold" textLength="61.6" lengthAdjust="spacingAndGlyphs">DOOR SWITCH</text>
<line x1="587.1" y1="646.9" x2="648.7" y2="646.9" stroke-width="1.7"/>
<text x="587.1" y="657.8" font-size="9.6" fill="#000" stroke="#000" stroke-width="0.6" text-anchor="start" font-weight="bold" textLength="60.3" lengthAdjust="spacingAndGlyphs">CLOSED WITH</text>
<text x="587.1" y="671.6" font-size="9.6" fill="#000" stroke="#000" stroke-width="0.6" text-anchor="start" font-weight="bold" textLength="51.5" lengthAdjust="spacingAndGlyphs">DOOR OPEN</text>
<polyline points="585.9,476.7 585.9,455.9 724.8,455.9 724.8,476.7" stroke-width="1.6" />
<text x="594.9" y="470.4" font-size="8.1" fill="#000" stroke="#000" stroke-width="0.6" text-anchor="start" font-weight="bold" textLength="94.7" lengthAdjust="spacingAndGlyphs">SEAT BELT INDICATORS</text>
<circle cx="708.4" cy="467.4" r="5" stroke-width="1.3" fill="none"/>
<text x="708.4" y="470.4" font-size="7.9" fill="#000" stroke="#000" stroke-width="0.6" text-anchor="middle" font-weight="bold">3</text>
<polyline points="827.1,125 827.4,195.5" stroke-width="6.2" stroke-linejoin="miter"/>
<polyline points="827.4,195 827.3,208.5" stroke-width="1.8" />
<text x="802" y="161.6" font-size="9.2" fill="#000" stroke="#000" stroke-width="0.6" text-anchor="start" font-weight="bold" textLength="18" lengthAdjust="spacingAndGlyphs">1 RD</text>
<polygon points="809.2,194.4 892.9,194.6 892.9,229 809.2,229" stroke-width="2.1" stroke-dasharray="4.4 2.4"/>
<text x="870.9" y="187.4" font-size="9.2" fill="#000" stroke="#000" stroke-width="0.6" text-anchor="start" font-weight="bold" textLength="18.1" lengthAdjust="spacingAndGlyphs">X5/1</text>
<line x1="870.9" y1="189.5" x2="889" y2="189.5" stroke-width="1.7"/>
<polyline points="829,208.8 837.5,195" stroke-width="1.8" />
<polyline points="836.8,196 860.4,157.4 939.5,157.2" stroke-width="5" stroke-linejoin="miter"/>
<path d="M862.4,159.7L872.9,155.1M876.9,159.7L887.4,155M891.4,159.6L901.9,155M905.9,159.6L916.4,155M920.4,159.5L930.9,154.9" stroke="#fff" stroke-width="1.3" stroke-linecap="butt"/>
<path d="M837,193.8L843.1,187.5M844.1,182.3L850.1,176M851.1,170.8L857.2,164.5" stroke="#fff" stroke-width="1" stroke-linecap="butt"/>
<polygon points="952,157.2 939,151.6 939,162.8" fill="#000" stroke="none"/>
<text x="872.2" y="149.1" font-size="9.2" fill="#000" stroke="#000" stroke-width="0.6" text-anchor="start" font-weight="bold" textLength="39.4" lengthAdjust="spacingAndGlyphs">.75 RD/WT</text>
<text x="960" y="153.5" font-size="9.1" fill="#000" stroke="#000" stroke-width="0.6" text-anchor="start" font-weight="bold" textLength="29.4" lengthAdjust="spacingAndGlyphs">POWER</text>
<text x="960" y="167" font-size="9.1" fill="#000" stroke="#000" stroke-width="0.6" text-anchor="start" font-weight="bold" textLength="28.7" lengthAdjust="spacingAndGlyphs">SEATS,</text>
<polyline points="830.5,213 892.9,222.4" stroke-width="1.5" />
<polyline points="892.9,222.2 939.5,222.2" stroke-width="5.6" stroke-linejoin="miter"/>
<polygon points="950.8,222.2 938.3,216.6 938.3,227.8" fill="#000" stroke="none"/>
<circle cx="827.2" cy="211.7" r="3.8" stroke-width="1.7" fill="#fff"/>
<circle cx="874.8" cy="211.7" r="3.8" stroke-width="1.7" fill="#fff"/>
<text x="815" y="208.2" font-size="6.4" fill="#000" stroke="#000" stroke-width="0.6" text-anchor="start" font-weight="bold" textLength="3.6" lengthAdjust="spacingAndGlyphs">C</text>
<text x="836.8" y="204.9" font-size="6.8" fill="#000" stroke="#000" stroke-width="0.6" text-anchor="start" font-weight="bold" textLength="6.6" lengthAdjust="spacingAndGlyphs">30</text>
<text x="864" y="207.4" font-size="6.4" fill="#000" stroke="#000" stroke-width="0.6" text-anchor="start" font-weight="bold" textLength="3.6" lengthAdjust="spacingAndGlyphs">D</text>
<text x="904.7" y="216" font-size="9.2" fill="#000" stroke="#000" stroke-width="0.6" text-anchor="start" font-weight="bold" textLength="17.6" lengthAdjust="spacingAndGlyphs">1 RD</text>
<text x="960.6" y="204.1" font-size="9.1" fill="#000" stroke="#000" stroke-width="0.6" text-anchor="start" font-weight="bold" textLength="34.4" lengthAdjust="spacingAndGlyphs">CENTRAL</text>
<text x="960.6" y="217.2" font-size="9.1" fill="#000" stroke="#000" stroke-width="0.6" text-anchor="start" font-weight="bold" textLength="33.1" lengthAdjust="spacingAndGlyphs">LOCKING</text>
<text x="960.6" y="231" font-size="9.1" fill="#000" stroke="#000" stroke-width="0.6" text-anchor="start" font-weight="bold" textLength="32.1" lengthAdjust="spacingAndGlyphs">SYSTEM</text>
<polyline points="827.6,215.5 828,228" stroke-width="2" />
<polyline points="828.1,227.5 828.1,302.6" stroke-width="6.4" stroke-linejoin="miter"/>
<polyline points="828.1,308.5 828.3,370" stroke-width="6.4" stroke-linejoin="miter"/>
<path d="M822.3,307.6 Q828.1,302.2 833.9,307.6" stroke-width="1.8" fill="none" />
<text x="812.5" y="310.9" font-size="7.7" fill="#000" stroke="#000" stroke-width="0.6" text-anchor="start" font-weight="bold" textLength="3.5" lengthAdjust="spacingAndGlyphs">1</text>
<text x="840.1" y="308.8" font-size="8.8" fill="#000" stroke="#000" stroke-width="0.6" text-anchor="start" font-weight="bold" textLength="16.1" lengthAdjust="spacingAndGlyphs">X42</text>
<line x1="840.1" y1="311.6" x2="856.2" y2="311.6" stroke-width="1.7"/>
<text x="837.6" y="293.9" font-size="9.2" fill="#000" stroke="#000" stroke-width="0.6" text-anchor="start" font-weight="bold" textLength="21.9" lengthAdjust="spacingAndGlyphs">.75 RD</text>
<line x1="829.8" y1="215" x2="836" y2="228" stroke-width="1.4" stroke-dasharray="2.5 2"/>
<polyline points="836.9,228 866,277.9 938.5,277.9" stroke-width="6" stroke-linejoin="miter"/>
<polygon points="950.1,278 937.6,272.4 937.6,283.6" fill="#000" stroke="none"/>
<text x="892.1" y="271.8" font-size="9.2" fill="#000" stroke="#000" stroke-width="0.6" text-anchor="start" font-weight="bold" textLength="22.6" lengthAdjust="spacingAndGlyphs">.75 RD</text>
<text x="959.8" y="264.2" font-size="9.1" fill="#000" stroke="#000" stroke-width="0.6" text-anchor="start" font-weight="bold" textLength="52.8" lengthAdjust="spacingAndGlyphs">ANTI THEFT</text>
<text x="959.8" y="278.2" font-size="9.1" fill="#000" stroke="#000" stroke-width="0.6" text-anchor="start" font-weight="bold" textLength="72.3" lengthAdjust="spacingAndGlyphs">ALARM SYSTEM,</text>
<polyline points="828.8,309.5 853.9,338.7 992.7,338.7 992.7,310" stroke-width="6" stroke-linejoin="miter"/>
<polygon points="992.7,299.2 986.9,311 998.5,311" fill="#000" stroke="none"/>
<text x="913" y="330.3" font-size="9.2" fill="#000" stroke="#000" stroke-width="0.6" text-anchor="start" font-weight="bold" textLength="24.3" lengthAdjust="spacingAndGlyphs">.75 RD</text>
<path d="M822.5,372.4 Q825.1,369 828.3,369 Q831.5,369 834.1,372.4" stroke-width="2.4" fill="none" />
<rect x="800.9" y="375.1" width="55.2" height="84.8" stroke-width="2.4" fill="none"/>
<polyline points="824.1,380.8 828.3,376.6 832.5,380.8" stroke-width="1.4" />
<polyline points="828.3,376.6 828.3,394.9" stroke-width="2" />
<polyline points="823.1,399.6 828.3,394.4 833.5,399.6" stroke-width="2" />
<circle cx="828.3" cy="418.3" r="16.1" stroke-width="2.2" fill="none"/>
<polyline points="824.3,408.1 828.3,404.1 832.3,408.1" stroke-width="1.7" />
<path d="M828.3,404.1 L828.3,410.8 C828.8,413.3 831.5,414.3 831.5,417.8 C831.5,422.3 830.8,424.3 828.6,427.3 L828.3,433.2" stroke-width="1.7" fill="none" />
<ellipse cx="827.7" cy="420.3" rx="2.7" ry="1.9" stroke-width="1.5" fill="none"/>
<polyline points="824.3,429.5 828.3,433.5 832.3,429.5" stroke-width="1.9" />
<polyline points="823.3,436.9 828.3,441.7 833.3,436.9" stroke-width="2" />
<polyline points="828.3,441.2 828.3,458.6" stroke-width="2" />
<polyline points="824.1,454.7 828.3,458.9 832.5,454.7" stroke-width="1.4" />
<text x="861.7" y="383.5" font-size="9.2" fill="#000" stroke="#000" stroke-width="0.6" text-anchor="start" font-weight="bold" textLength="22.9" lengthAdjust="spacingAndGlyphs">E15/3</text>
<line x1="861.7" y1="386.3" x2="887" y2="386.3" stroke-width="2"/>
<text x="861.7" y="396.9" font-size="9.6" fill="#000" stroke="#000" stroke-width="0.6" text-anchor="start" font-weight="bold" textLength="23.1" lengthAdjust="spacingAndGlyphs">REAR</text>
<line x1="861.7" y1="399.3" x2="887" y2="399.3" stroke-width="2"/>
<text x="861.7" y="410.5" font-size="9.6" fill="#000" stroke="#000" stroke-width="0.6" text-anchor="start" font-weight="bold" textLength="23.1" lengthAdjust="spacingAndGlyphs">DOME</text>
<line x1="861.7" y1="413.7" x2="887" y2="413.7" stroke-width="2"/>
<text x="861.7" y="424.3" font-size="9.6" fill="#000" stroke="#000" stroke-width="0.6" text-anchor="start" font-weight="bold" textLength="23.1" lengthAdjust="spacingAndGlyphs">LAMP</text>
<line x1="861.7" y1="426.9" x2="887" y2="426.9" stroke-width="2"/>
<path d="M822.5,463.8 Q825.1,467.2 828.3,467.2 Q831.5,467.2 834.1,463.8" stroke-width="2.4" fill="none" />
<text x="816.5" y="470.3" font-size="7.7" fill="#000" stroke="#000" stroke-width="0.6" text-anchor="start" font-weight="bold" textLength="3.5" lengthAdjust="spacingAndGlyphs">2</text>
<polyline points="828.3,467 828.3,484.5" stroke-width="6.4" stroke-linejoin="miter"/>
<polyline points="828.5,490.5 828.8,561" stroke-width="6.4" stroke-linejoin="miter"/>
<path d="M822.5,485.0 Q828.3,491.0 834.1,485.0" stroke-width="1.8" fill="none" />
<text x="809.5" y="492.6" font-size="7.7" fill="#000" stroke="#000" stroke-width="0.6" text-anchor="start" font-weight="bold" textLength="8.3" lengthAdjust="spacingAndGlyphs">12</text>
<text x="838.6" y="492" font-size="8.8" fill="#000" stroke="#000" stroke-width="0.6" text-anchor="start" font-weight="bold" textLength="14.8" lengthAdjust="spacingAndGlyphs">X42</text>
<line x1="838.6" y1="494.9" x2="853.4" y2="494.9" stroke-width="1.7"/>
<polyline points="830.5,482.5 838.4,475.4 897.6,475.4" stroke-width="6.4" stroke-linejoin="miter"/>
<rect x="897.3" y="464.2" width="40.3" height="19.8" stroke-width="2" fill="#fff"/>
<polyline points="897.6,474.6 937,474.6" stroke-width="1.3" />
<polygon points="912.5,470.4 912.5,478.8 920.5,474.6" fill="#000" stroke="none"/>
<polyline points="921.2,470.2 921.2,479" stroke-width="1.6" />
<polyline points="937.6,474.6 965.6,474.6 991.6,450.2" stroke-width="6.2" stroke-linejoin="miter"/>
<polyline points="687.1,560 687.1,523.7 821,523.7" stroke-width="4.8" stroke-linejoin="miter"/>
<path d="M689.1,525.9L699.6,521.5M703.6,525.9L714.1,521.5M718.1,525.9L728.6,521.5M732.6,525.9L743.1,521.5M747.1,525.9L757.6,521.5M761.6,525.9L772.1,521.5M776.1,525.9L786.6,521.5M790.6,525.9L801.1,521.5M805.1,525.9L815.6,521.5" stroke="#fff" stroke-width="1.3" stroke-linecap="butt"/>
<path d="M686.2,558L688,549.5M686.2,544.5L688,536" stroke="#fff" stroke-width="1" stroke-linecap="butt"/>
<polyline points="835.5,523.7 953.6,523.7 991,451.5" stroke-width="4.8" stroke-linejoin="miter"/>
<path d="M837.5,525.9L848,521.5M852,525.9L862.5,521.5M866.5,525.9L877,521.5M881,525.9L891.5,521.5M895.5,525.9L906,521.5M910,525.9L920.5,521.5M924.5,525.9L935,521.5M939,525.9L949.5,521.5" stroke="#fff" stroke-width="1.3" stroke-linecap="butt"/>
<path d="M953.7,521.5L959.2,514.8M959.9,509.5L965.4,502.8M966.1,497.5L971.7,490.8M972.3,485.5L977.9,478.8M978.5,473.6L984.1,466.8M984.8,461.6L990.3,454.9" stroke="#fff" stroke-width="1" stroke-linecap="butt"/>
<text x="722.3" y="516.5" font-size="9.2" fill="#000" stroke="#000" stroke-width="0.6" text-anchor="start" font-weight="bold" textLength="45.2" lengthAdjust="spacingAndGlyphs">.75 GY/BU</text>
<text x="793.9" y="543.7" font-size="9.2" fill="#000" stroke="#000" stroke-width="0.6" text-anchor="start" font-weight="bold" textLength="27.1" lengthAdjust="spacingAndGlyphs">.75 GY</text>
<circle cx="887.1" cy="552.6" r="5.6" stroke-width="1.5" fill="none"/>
<text x="887.4" y="555.7" font-size="7.9" fill="#000" stroke="#000" stroke-width="0.6" text-anchor="middle" font-weight="bold">1</text>
<polygon points="967,371.3 1020,371.3 1020,409 967,409" stroke-width="2" stroke-dasharray="5 2.4"/>
<text x="983.7" y="380.8" font-size="8.1" fill="#000" stroke="#000" stroke-width="0.6" text-anchor="start" font-weight="bold" textLength="22.1" lengthAdjust="spacingAndGlyphs">REAR</text>
<text x="983.7" y="392.4" font-size="8.1" fill="#000" stroke="#000" stroke-width="0.6" text-anchor="start" font-weight="bold" textLength="22.1" lengthAdjust="spacingAndGlyphs">DOOR</text>
<text x="983.7" y="403.9" font-size="8.1" fill="#000" stroke="#000" stroke-width="0.6" text-anchor="start" font-weight="bold" textLength="22.8" lengthAdjust="spacingAndGlyphs">INPUT</text>
<text x="1026" y="378.6" font-size="8.8" fill="#000" stroke="#000" stroke-width="0.6" text-anchor="start" font-weight="bold" textLength="16" lengthAdjust="spacingAndGlyphs">N76</text>
<line x1="1026" y1="380.9" x2="1042" y2="380.9" stroke-width="1.7"/>
<text x="1026" y="391.7" font-size="9.2" fill="#000" stroke="#000" stroke-width="0.6" text-anchor="start" font-weight="bold" textLength="52.4" lengthAdjust="spacingAndGlyphs">ANTI THEFT</text>
<line x1="1026" y1="394.7" x2="1078.4" y2="394.7" stroke-width="1.7"/>
<text x="1026" y="404.7" font-size="9.2" fill="#000" stroke="#000" stroke-width="0.6" text-anchor="start" font-weight="bold" textLength="32.5" lengthAdjust="spacingAndGlyphs">ALARM</text>
<line x1="1026" y1="407.3" x2="1058.5" y2="407.3" stroke-width="1.7"/>
<text x="1026" y="418" font-size="9.2" fill="#000" stroke="#000" stroke-width="0.6" text-anchor="start" font-weight="bold" textLength="67" lengthAdjust="spacingAndGlyphs">CONTROL UNIT</text>
<line x1="1026" y1="420.9" x2="1093" y2="420.9" stroke-width="1.7"/>
<text x="1028.7" y="433" font-size="8.8" fill="#000" stroke="#000" stroke-width="0.6" text-anchor="start" font-weight="bold" textLength="48.2" lengthAdjust="spacingAndGlyphs">x1 = 8 POLE</text>
<text x="1028.7" y="446.4" font-size="8.8" fill="#000" stroke="#000" stroke-width="0.6" text-anchor="start" font-weight="bold" textLength="53.8" lengthAdjust="spacingAndGlyphs">x2 = 14 POLE</text>
<path d="M986.9,411 Q989.4,414.6 992.4,414.6 Q995.4,414.6 997.9,411" stroke-width="1.8" fill="none" />
<text x="980.5" y="418.2" font-size="6.8" fill="#000" stroke="#000" stroke-width="0.6" text-anchor="start" font-weight="bold" textLength="3.2" lengthAdjust="spacingAndGlyphs">8</text>
<text x="1001.2" y="420.7" font-size="7.5" fill="#000" stroke="#000" stroke-width="0.6" text-anchor="start" font-weight="bold" textLength="7.8" lengthAdjust="spacingAndGlyphs">x2</text>
<line x1="1001.2" y1="423.9" x2="1009" y2="423.9" stroke-width="1.7"/>
<polyline points="992.6,414.5 992.8,442" stroke-width="5" stroke-linejoin="miter"/>
<path d="M991.7,416.5L993.6,425M991.8,430L993.7,438.5" stroke="#fff" stroke-width="1" stroke-linecap="butt"/>
<path d="M987.0,446.6 Q992.8,441.6 998.6,446.6" stroke-width="1.8" fill="none" />
<text x="979.3" y="449.8" font-size="7.7" fill="#000" stroke="#000" stroke-width="0.6" text-anchor="start" font-weight="bold" textLength="3.3" lengthAdjust="spacingAndGlyphs">3</text>
<text x="1003.6" y="449.4" font-size="8.8" fill="#000" stroke="#000" stroke-width="0.6" text-anchor="start" font-weight="bold" textLength="14.4" lengthAdjust="spacingAndGlyphs">X42</text>
<line x1="1003.6" y1="452.5" x2="1018" y2="452.5" stroke-width="1.7"/>
<text x="946.3" y="434" font-size="9.2" fill="#000" stroke="#000" stroke-width="0.6" text-anchor="start" font-weight="bold" textLength="37" lengthAdjust="spacingAndGlyphs">.75 GY/YL</text>
<polyline points="993.5,449 994.6,561" stroke-width="5" stroke-linejoin="miter"/>
<path d="M992.6,451L994.6,459.5M992.7,464.5L994.7,473M992.8,478L994.8,486.5M993,491.5L995,500M993.1,505L995.1,513.5M993.2,518.5L995.2,527M993.4,532L995.3,540.5M993.5,545.5L995.5,554" stroke="#fff" stroke-width="1" stroke-linecap="butt"/>
<text x="942.3" y="550.7" font-size="9.2" fill="#000" stroke="#000" stroke-width="0.6" text-anchor="start" font-weight="bold" textLength="42.5" lengthAdjust="spacingAndGlyphs">.75 GY/BU</text>
<path d="M681.8,563.7 Q684.4,560.3 687.6,560.3 Q690.8,560.3 693.4,563.7" stroke-width="2.4" fill="none" />
<rect x="664.5" y="565.1" width="45.1" height="51.5" stroke-width="2.2" fill="none"/>
<polyline points="682.7,570.5 687.3,565.9 691.9,570.5" stroke-width="1.7" />
<polyline points="687.3,565.9 687.3,578.9" stroke-width="1.8" />
<circle cx="687.3" cy="578.9" r="2.7" fill="#000" stroke="none"/>
<polyline points="687.3,578.9 675,604.1" stroke-width="2.4" />
<circle cx="675" cy="604.1" r="3" fill="#000" stroke="none"/>
<circle cx="697.6" cy="603.8" r="2.8" fill="#000" stroke="none"/>
<polyline points="681,605.5 682.2,605.5" stroke-width="0.9" />
<polyline points="697.6,604.1 697.6,616.6" stroke-width="1.9" />
<path d="M692.8,611 Q697.6,616 702.4,611" stroke-width="1.6" fill="none" />
<path d="M692.4,618.1 Q695,621.5 698.2,621.5 Q701.4,621.5 704,618.1" stroke-width="2.4" fill="none" />
<text x="714" y="573" font-size="9.2" fill="#000" stroke="#000" stroke-width="0.6" text-anchor="start" font-weight="bold" textLength="22.8" lengthAdjust="spacingAndGlyphs">S17/5</text>
<line x1="714" y1="574.7" x2="736.8" y2="574.7" stroke-width="1.7"/>
<text x="714" y="585.7" font-size="9.6" fill="#000" stroke="#000" stroke-width="0.6" text-anchor="start" font-weight="bold" textLength="51.4" lengthAdjust="spacingAndGlyphs">LEFT REAR</text>
<line x1="714" y1="587.9" x2="765.4" y2="587.9" stroke-width="1.7"/>
<text x="714" y="599.3" font-size="9.6" fill="#000" stroke="#000" stroke-width="0.6" text-anchor="start" font-weight="bold" textLength="62.2" lengthAdjust="spacingAndGlyphs">DOOR SWITCH</text>
<line x1="714" y1="601.5" x2="776.2" y2="601.5" stroke-width="1.7"/>
<text x="714" y="612.6" font-size="9.6" fill="#000" stroke="#000" stroke-width="0.6" text-anchor="start" font-weight="bold" textLength="61" lengthAdjust="spacingAndGlyphs">CLOSED WITH</text>
<text x="714" y="626.4" font-size="9.6" fill="#000" stroke="#000" stroke-width="0.6" text-anchor="start" font-weight="bold" textLength="51.7" lengthAdjust="spacingAndGlyphs">DOOR OPEN</text>
<polyline points="698.2,621 698.2,666.8 836,666.8" stroke-width="6.2" stroke-linejoin="miter"/>
<text x="747.4" y="659.7" font-size="9.2" fill="#000" stroke="#000" stroke-width="0.6" text-anchor="start" font-weight="bold" textLength="26.1" lengthAdjust="spacingAndGlyphs">.75 BR</text>
<path d="M823,563.7 Q825.6,560.3 828.8,560.3 Q832,560.3 834.6,563.7" stroke-width="2.4" fill="none" />
<rect x="784" y="565.8" width="90.9" height="50.5" stroke-width="2.4" fill="none"/>
<polyline points="824.6,570.8 828.8,566.6 833,570.8" stroke-width="1.4" />
<polyline points="828.8,566.6 828.8,579.7" stroke-width="1.5" />
<circle cx="828.8" cy="579.7" r="2.6" fill="#000" stroke="none"/>
<polyline points="828.8,579.7 817,605.8" stroke-width="2.4" />
<circle cx="817" cy="605.8" r="2.8" fill="#000" stroke="none"/>
<circle cx="843.3" cy="605" r="2.8" fill="#000" stroke="none"/>
<polyline points="831,607.2 832.6,607.2" stroke-width="1" />
<polyline points="843.3,605 843.3,616.6" stroke-width="1.5" />
<path d="M838.5,610.6 Q843.3,615.8 848.1,610.6" stroke-width="1.6" fill="none" />
<text x="796.9" y="607.1" font-size="7.1" fill="#000" stroke="#000" stroke-width="0.6" text-anchor="start" font-weight="bold" textLength="13.8" lengthAdjust="spacingAndGlyphs">OFF</text>
<text x="849.6" y="605.4" font-size="7.1" fill="#000" stroke="#000" stroke-width="0.6" text-anchor="start" font-weight="bold" textLength="10.6" lengthAdjust="spacingAndGlyphs">ON</text>
<path d="M836.8,618.6 Q839.4,622 842.6,622 Q845.8,622 848.4,618.6" stroke-width="2.4" fill="none" />
<polyline points="842.6,621.5 842.6,710.5" stroke-width="6.2" stroke-linejoin="miter"/>
<circle cx="842.3" cy="715.2" r="4.6" fill="#000" stroke="none"/>
<polyline points="835.3,720.8 849.3,720.8" stroke-width="1.9" />
<polyline points="838.1,724.6 846.5,724.6" stroke-width="1.7" />
<polyline points="840.5,728 844.1,728" stroke-width="1.5" />
<text x="859.1" y="716.9" font-size="8.6" fill="#000" stroke="#000" stroke-width="0.6" text-anchor="start" font-weight="bold" textLength="10.6" lengthAdjust="spacingAndGlyphs">W1</text>
<line x1="859.1" y1="720.1" x2="869.7" y2="720.1" stroke-width="1.7"/>
<text x="812.7" y="650.7" font-size="8.8" fill="#000" stroke="#000" stroke-width="0.6" text-anchor="start" font-weight="bold" textLength="22.6" lengthAdjust="spacingAndGlyphs">.75 BR</text>
<text x="880.2" y="573" font-size="9.2" fill="#000" stroke="#000" stroke-width="0.6" text-anchor="start" font-weight="bold" textLength="14.6" lengthAdjust="spacingAndGlyphs">S18</text>
<line x1="880.2" y1="574.7" x2="894.8" y2="574.7" stroke-width="1.7"/>
<text x="880.2" y="585.7" font-size="9.6" fill="#000" stroke="#000" stroke-width="0.6" text-anchor="start" font-weight="bold" textLength="23.9" lengthAdjust="spacingAndGlyphs">REAR</text>
<line x1="880.2" y1="588.2" x2="904.1" y2="588.2" stroke-width="1.7"/>
<text x="880.2" y="598.7" font-size="9.6" fill="#000" stroke="#000" stroke-width="0.6" text-anchor="start" font-weight="bold" textLength="23.9" lengthAdjust="spacingAndGlyphs">DOME</text>
<line x1="880.2" y1="601" x2="904.1" y2="601" stroke-width="1.7"/>
<text x="880.2" y="611.8" font-size="9.6" fill="#000" stroke="#000" stroke-width="0.6" text-anchor="start" font-weight="bold" textLength="23.9" lengthAdjust="spacingAndGlyphs">LAMP</text>
<line x1="880.2" y1="614" x2="904.1" y2="614" stroke-width="1.7"/>
<text x="880.2" y="625.9" font-size="9.6" fill="#000" stroke="#000" stroke-width="0.6" text-anchor="start" font-weight="bold" textLength="31.7" lengthAdjust="spacingAndGlyphs">SWITCH</text>
<line x1="880.2" y1="628.1" x2="911.9" y2="628.1" stroke-width="1.7"/>
<polyline points="846.5,711.5 859.6,699.5 921,699.5" stroke-width="5" stroke-linejoin="miter"/>
<path d="M926.2,693.9 Q922.6,696.4 922.6,699.5 Q922.6,702.6 926.2,705.1" stroke-width="1.8" fill="none" />
<text x="877.2" y="693.1" font-size="8.8" fill="#000" stroke="#000" stroke-width="0.6" text-anchor="start" font-weight="bold" textLength="25.9" lengthAdjust="spacingAndGlyphs">1.5 BR</text>
<text x="923.7" y="689.9" font-size="6.8" fill="#000" stroke="#000" stroke-width="0.6" text-anchor="start" font-weight="bold" textLength="3.3" lengthAdjust="spacingAndGlyphs">8</text>
<text x="919.4" y="716.5" font-size="8.8" fill="#000" stroke="#000" stroke-width="0.6" text-anchor="start" font-weight="bold" textLength="14.3" lengthAdjust="spacingAndGlyphs">X42</text>
<line x1="919.4" y1="719" x2="933.7" y2="719" stroke-width="1.7"/>
<polyline points="849,665.6 949.4,665.6 949.4,684 928,700" stroke-width="6" stroke-linejoin="miter"/>
<polyline points="926.5,699.7 1006.3,699.7 1006.3,622.5" stroke-width="6" stroke-linejoin="miter"/>
<path d="M988.8,564.6 Q991.4,561.2 994.6,561.2 Q997.8,561.2 1000.4,564.6" stroke-width="2.4" fill="none" />
<rect x="972.6" y="566.4" width="44.5" height="51.5" stroke-width="2.2" fill="none"/>
<polyline points="990.2,571.8 994.8,567.2 999.4,571.8" stroke-width="1.7" />
<polyline points="994.8,567.2 994.8,580.2" stroke-width="1.8" />
<circle cx="994.8" cy="580.2" r="2.7" fill="#000" stroke="none"/>
<polyline points="994.8,580.2 982.5,605.4" stroke-width="2.4" />
<circle cx="982.5" cy="605.4" r="3" fill="#000" stroke="none"/>
<circle cx="1005.8" cy="605.1" r="2.8" fill="#000" stroke="none"/>
<polyline points="988.5,606.8 989.7,606.8" stroke-width="0.9" />
<polyline points="1005.8,605.4 1005.8,617.9" stroke-width="1.9" />
<path d="M1001,612.3 Q1005.8,617.3 1010.6,612.3" stroke-width="1.6" fill="none" />
<path d="M1000.5,619.6 Q1003.1,623 1006.3,623 Q1009.5,623 1012.1,619.6" stroke-width="2.4" fill="none" />
<text x="1020.8" y="573.5" font-size="9.2" fill="#000" stroke="#000" stroke-width="0.6" text-anchor="start" font-weight="bold" textLength="22.1" lengthAdjust="spacingAndGlyphs">S17/6</text>
<line x1="1020.8" y1="575.9" x2="1042.9" y2="575.9" stroke-width="1.7"/>
<text x="1020.8" y="587.4" font-size="9.6" fill="#000" stroke="#000" stroke-width="0.6" text-anchor="start" font-weight="bold" textLength="55.8" lengthAdjust="spacingAndGlyphs">RIGHT REAR</text>
<line x1="1020.8" y1="589.7" x2="1076.6" y2="589.7" stroke-width="1.7"/>
<text x="1020.8" y="600.8" font-size="9.6" fill="#000" stroke="#000" stroke-width="0.6" text-anchor="start" font-weight="bold" textLength="61.6" lengthAdjust="spacingAndGlyphs">DOOR SWITCH</text>
<line x1="1020.8" y1="603" x2="1082.4" y2="603" stroke-width="1.7"/>
<text x="1020.8" y="614.3" font-size="9.6" fill="#000" stroke="#000" stroke-width="0.6" text-anchor="start" font-weight="bold" textLength="59.8" lengthAdjust="spacingAndGlyphs">CLOSED WITH</text>
<text x="1020.8" y="627.6" font-size="9.6" fill="#000" stroke="#000" stroke-width="0.6" text-anchor="start" font-weight="bold" textLength="51" lengthAdjust="spacingAndGlyphs">DOOR OPEN</text>
<text x="976.1" y="656.2" font-size="8.8" fill="#000" stroke="#000" stroke-width="0.6" text-anchor="start" font-weight="bold" textLength="23.4" lengthAdjust="spacingAndGlyphs">.75 BR</text>
<polyline points="31,807 31,737.4 1086,737.8 1086,799.6" stroke-width="1.6" />
<polyline points="31,807 400,807.6 1071.7,807" stroke-width="1.6" />
<text x="35.9" y="752.3" font-size="11.3" fill="#000" stroke="#000" stroke-width="0.5" text-anchor="start" font-weight="normal" textLength="68.1" lengthAdjust="spacingAndGlyphs">REVISIONS:</text>
<circle cx="118.4" cy="748.6" r="4.6" stroke-width="1.2" fill="none"/>
<text x="118.4" y="751.4" font-size="7.3" fill="#000" stroke="#000" stroke-width="0.6" text-anchor="middle" font-weight="bold">1</text>
<text x="130.6" y="751.8" font-size="8.6" fill="#000" stroke="#000" stroke-width="0.2" text-anchor="start" font-weight="bold" textLength="234.6" lengthAdjust="spacingAndGlyphs">REAR DOME LAMP SWITCH IS ILLUMINATED FROM THE</text>
<text x="130.6" y="765.5" font-size="8.6" fill="#000" stroke="#000" stroke-width="0.2" text-anchor="start" font-weight="bold" textLength="255.8" lengthAdjust="spacingAndGlyphs">INSTRUMENT CLUSTER BY MEANS OF A FIBER OPTIC CABLE</text>
<text x="112.5" y="778.9" font-size="8.6" fill="#000" stroke="#000" stroke-width="0.2" text-anchor="start" font-weight="bold" textLength="11" lengthAdjust="spacingAndGlyphs">(2)</text>
<text x="130.6" y="778.9" font-size="8.6" fill="#000" stroke="#000" stroke-width="0.2" text-anchor="start" font-weight="bold" textLength="79.4" lengthAdjust="spacingAndGlyphs">MODEL YEAR 1987</text>
<text x="112.5" y="792.3" font-size="8.6" fill="#000" stroke="#000" stroke-width="0.2" text-anchor="start" font-weight="bold" textLength="11" lengthAdjust="spacingAndGlyphs">(3)</text>
<text x="130.6" y="792.3" font-size="8.6" fill="#000" stroke="#000" stroke-width="0.2" text-anchor="start" font-weight="bold" textLength="106.4" lengthAdjust="spacingAndGlyphs">AS OF MODEL YEAR 1988</text>
</g>
</svg>
</body></html>
